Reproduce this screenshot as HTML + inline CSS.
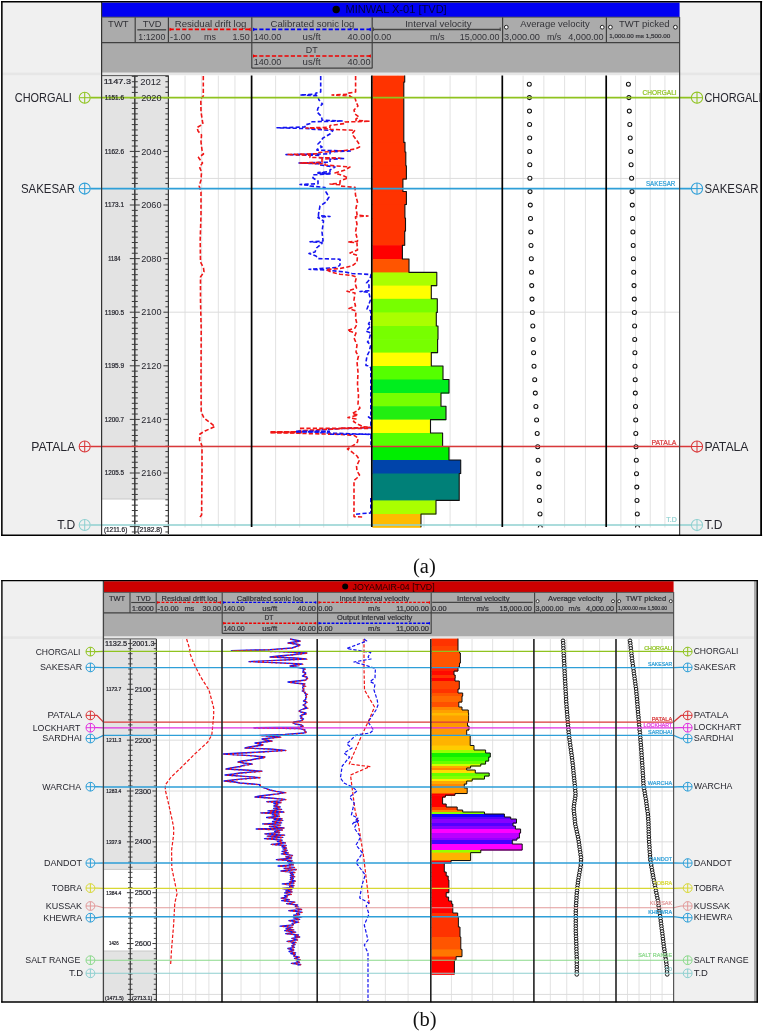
<!DOCTYPE html>
<html lang="en"><head><meta charset="utf-8"><title>Well section calibration</title>
<style>html,body{margin:0;padding:0;background:#fff}svg{display:block}text{white-space:pre}</style></head>
<body>
<svg width="763" height="1032" viewBox="0 0 763 1032" font-family='"Liberation Sans", sans-serif'>
<rect x="0.00" y="0.00" width="763.00" height="1032.00" fill="#ffffff" />
<rect x="1.80" y="1.50" width="99.80" height="533.50" fill="#f0f0f0" />
<rect x="679.60" y="1.50" width="81.60" height="533.50" fill="#f0f0f0" />
<rect x="101.60" y="75.60" width="578.00" height="459.40" fill="#ffffff" />
<rect x="1.80" y="72.60" width="759.40" height="2.60" fill="#e6e6e6" />
<rect x="101.60" y="2.50" width="578.00" height="14.60" fill="#0000f2" />
<rect x="101.60" y="17.20" width="578.00" height="55.40" fill="#ababab" />
<rect x="101.60" y="75.60" width="66.80" height="423.40" fill="#e3e3e3" />
<line x1="101.60" y1="499.00" x2="168.40" y2="499.00" stroke="#c8c8c8" stroke-width="1" />
<line x1="185.04" y1="75.60" x2="185.04" y2="527.50" stroke="#e2e2e2" stroke-width="1" />
<line x1="201.68" y1="75.60" x2="201.68" y2="527.50" stroke="#e2e2e2" stroke-width="1" />
<line x1="218.32" y1="75.60" x2="218.32" y2="527.50" stroke="#e2e2e2" stroke-width="1" />
<line x1="234.96" y1="75.60" x2="234.96" y2="527.50" stroke="#e2e2e2" stroke-width="1" />
<line x1="275.64" y1="75.60" x2="275.64" y2="527.50" stroke="#e2e2e2" stroke-width="1" />
<line x1="299.68" y1="75.60" x2="299.68" y2="527.50" stroke="#e2e2e2" stroke-width="1" />
<line x1="323.72" y1="75.60" x2="323.72" y2="527.50" stroke="#e2e2e2" stroke-width="1" />
<line x1="347.76" y1="75.60" x2="347.76" y2="527.50" stroke="#e2e2e2" stroke-width="1" />
<line x1="397.90" y1="75.60" x2="397.90" y2="527.50" stroke="#e2e2e2" stroke-width="1" />
<line x1="424.00" y1="75.60" x2="424.00" y2="527.50" stroke="#e2e2e2" stroke-width="1" />
<line x1="450.10" y1="75.60" x2="450.10" y2="527.50" stroke="#e2e2e2" stroke-width="1" />
<line x1="476.20" y1="75.60" x2="476.20" y2="527.50" stroke="#e2e2e2" stroke-width="1" />
<line x1="523.08" y1="75.60" x2="523.08" y2="527.50" stroke="#e2e2e2" stroke-width="1" />
<line x1="543.86" y1="75.60" x2="543.86" y2="527.50" stroke="#e2e2e2" stroke-width="1" />
<line x1="564.64" y1="75.60" x2="564.64" y2="527.50" stroke="#e2e2e2" stroke-width="1" />
<line x1="585.42" y1="75.60" x2="585.42" y2="527.50" stroke="#e2e2e2" stroke-width="1" />
<line x1="620.88" y1="75.60" x2="620.88" y2="527.50" stroke="#e2e2e2" stroke-width="1" />
<line x1="635.56" y1="75.60" x2="635.56" y2="527.50" stroke="#e2e2e2" stroke-width="1" />
<line x1="650.24" y1="75.60" x2="650.24" y2="527.50" stroke="#e2e2e2" stroke-width="1" />
<line x1="664.92" y1="75.60" x2="664.92" y2="527.50" stroke="#e2e2e2" stroke-width="1" />
<line x1="168.40" y1="178.40" x2="679.60" y2="178.40" stroke="#dcdcdc" stroke-width="1" />
<line x1="168.40" y1="312.20" x2="679.60" y2="312.20" stroke="#dcdcdc" stroke-width="1" />
<line x1="168.40" y1="446.20" x2="679.60" y2="446.20" stroke="#dcdcdc" stroke-width="1" />
<line x1="134.80" y1="75.60" x2="134.80" y2="534.00" stroke="#3a3a3a" stroke-width="1.5" />
<line x1="168.40" y1="75.60" x2="168.40" y2="534.00" stroke="#3a3a3a" stroke-width="1.2" />
<line x1="101.60" y1="75.60" x2="168.40" y2="75.60" stroke="#555" stroke-width="1" />
<line x1="131.80" y1="76.36" x2="137.80" y2="76.36" stroke="#3a3a3a" stroke-width="1" />
<line x1="165.40" y1="76.36" x2="168.40" y2="76.36" stroke="#3a3a3a" stroke-width="1" />
<line x1="131.80" y1="81.72" x2="137.80" y2="81.72" stroke="#3a3a3a" stroke-width="1" />
<line x1="165.40" y1="81.72" x2="168.40" y2="81.72" stroke="#3a3a3a" stroke-width="1" />
<line x1="131.80" y1="87.08" x2="137.80" y2="87.08" stroke="#3a3a3a" stroke-width="1" />
<line x1="165.40" y1="87.08" x2="168.40" y2="87.08" stroke="#3a3a3a" stroke-width="1" />
<line x1="131.80" y1="92.44" x2="137.80" y2="92.44" stroke="#3a3a3a" stroke-width="1" />
<line x1="165.40" y1="92.44" x2="168.40" y2="92.44" stroke="#3a3a3a" stroke-width="1" />
<line x1="129.80" y1="97.80" x2="139.80" y2="97.80" stroke="#3a3a3a" stroke-width="1" />
<line x1="163.40" y1="97.80" x2="168.40" y2="97.80" stroke="#3a3a3a" stroke-width="1" />
<line x1="131.80" y1="103.16" x2="137.80" y2="103.16" stroke="#3a3a3a" stroke-width="1" />
<line x1="165.40" y1="103.16" x2="168.40" y2="103.16" stroke="#3a3a3a" stroke-width="1" />
<line x1="131.80" y1="108.52" x2="137.80" y2="108.52" stroke="#3a3a3a" stroke-width="1" />
<line x1="165.40" y1="108.52" x2="168.40" y2="108.52" stroke="#3a3a3a" stroke-width="1" />
<line x1="131.80" y1="113.88" x2="137.80" y2="113.88" stroke="#3a3a3a" stroke-width="1" />
<line x1="165.40" y1="113.88" x2="168.40" y2="113.88" stroke="#3a3a3a" stroke-width="1" />
<line x1="131.80" y1="119.24" x2="137.80" y2="119.24" stroke="#3a3a3a" stroke-width="1" />
<line x1="165.40" y1="119.24" x2="168.40" y2="119.24" stroke="#3a3a3a" stroke-width="1" />
<line x1="131.80" y1="124.60" x2="137.80" y2="124.60" stroke="#3a3a3a" stroke-width="1" />
<line x1="165.40" y1="124.60" x2="168.40" y2="124.60" stroke="#3a3a3a" stroke-width="1" />
<line x1="131.80" y1="129.96" x2="137.80" y2="129.96" stroke="#3a3a3a" stroke-width="1" />
<line x1="165.40" y1="129.96" x2="168.40" y2="129.96" stroke="#3a3a3a" stroke-width="1" />
<line x1="131.80" y1="135.32" x2="137.80" y2="135.32" stroke="#3a3a3a" stroke-width="1" />
<line x1="165.40" y1="135.32" x2="168.40" y2="135.32" stroke="#3a3a3a" stroke-width="1" />
<line x1="131.80" y1="140.68" x2="137.80" y2="140.68" stroke="#3a3a3a" stroke-width="1" />
<line x1="165.40" y1="140.68" x2="168.40" y2="140.68" stroke="#3a3a3a" stroke-width="1" />
<line x1="131.80" y1="146.04" x2="137.80" y2="146.04" stroke="#3a3a3a" stroke-width="1" />
<line x1="165.40" y1="146.04" x2="168.40" y2="146.04" stroke="#3a3a3a" stroke-width="1" />
<line x1="129.80" y1="151.40" x2="139.80" y2="151.40" stroke="#3a3a3a" stroke-width="1" />
<line x1="163.40" y1="151.40" x2="168.40" y2="151.40" stroke="#3a3a3a" stroke-width="1" />
<line x1="131.80" y1="156.76" x2="137.80" y2="156.76" stroke="#3a3a3a" stroke-width="1" />
<line x1="165.40" y1="156.76" x2="168.40" y2="156.76" stroke="#3a3a3a" stroke-width="1" />
<line x1="131.80" y1="162.12" x2="137.80" y2="162.12" stroke="#3a3a3a" stroke-width="1" />
<line x1="165.40" y1="162.12" x2="168.40" y2="162.12" stroke="#3a3a3a" stroke-width="1" />
<line x1="131.80" y1="167.48" x2="137.80" y2="167.48" stroke="#3a3a3a" stroke-width="1" />
<line x1="165.40" y1="167.48" x2="168.40" y2="167.48" stroke="#3a3a3a" stroke-width="1" />
<line x1="131.80" y1="172.84" x2="137.80" y2="172.84" stroke="#3a3a3a" stroke-width="1" />
<line x1="165.40" y1="172.84" x2="168.40" y2="172.84" stroke="#3a3a3a" stroke-width="1" />
<line x1="131.80" y1="178.20" x2="137.80" y2="178.20" stroke="#3a3a3a" stroke-width="1" />
<line x1="165.40" y1="178.20" x2="168.40" y2="178.20" stroke="#3a3a3a" stroke-width="1" />
<line x1="131.80" y1="183.56" x2="137.80" y2="183.56" stroke="#3a3a3a" stroke-width="1" />
<line x1="165.40" y1="183.56" x2="168.40" y2="183.56" stroke="#3a3a3a" stroke-width="1" />
<line x1="131.80" y1="188.92" x2="137.80" y2="188.92" stroke="#3a3a3a" stroke-width="1" />
<line x1="165.40" y1="188.92" x2="168.40" y2="188.92" stroke="#3a3a3a" stroke-width="1" />
<line x1="131.80" y1="194.28" x2="137.80" y2="194.28" stroke="#3a3a3a" stroke-width="1" />
<line x1="165.40" y1="194.28" x2="168.40" y2="194.28" stroke="#3a3a3a" stroke-width="1" />
<line x1="131.80" y1="199.64" x2="137.80" y2="199.64" stroke="#3a3a3a" stroke-width="1" />
<line x1="165.40" y1="199.64" x2="168.40" y2="199.64" stroke="#3a3a3a" stroke-width="1" />
<line x1="129.80" y1="205.00" x2="139.80" y2="205.00" stroke="#3a3a3a" stroke-width="1" />
<line x1="163.40" y1="205.00" x2="168.40" y2="205.00" stroke="#3a3a3a" stroke-width="1" />
<line x1="131.80" y1="210.36" x2="137.80" y2="210.36" stroke="#3a3a3a" stroke-width="1" />
<line x1="165.40" y1="210.36" x2="168.40" y2="210.36" stroke="#3a3a3a" stroke-width="1" />
<line x1="131.80" y1="215.72" x2="137.80" y2="215.72" stroke="#3a3a3a" stroke-width="1" />
<line x1="165.40" y1="215.72" x2="168.40" y2="215.72" stroke="#3a3a3a" stroke-width="1" />
<line x1="131.80" y1="221.08" x2="137.80" y2="221.08" stroke="#3a3a3a" stroke-width="1" />
<line x1="165.40" y1="221.08" x2="168.40" y2="221.08" stroke="#3a3a3a" stroke-width="1" />
<line x1="131.80" y1="226.44" x2="137.80" y2="226.44" stroke="#3a3a3a" stroke-width="1" />
<line x1="165.40" y1="226.44" x2="168.40" y2="226.44" stroke="#3a3a3a" stroke-width="1" />
<line x1="131.80" y1="231.80" x2="137.80" y2="231.80" stroke="#3a3a3a" stroke-width="1" />
<line x1="165.40" y1="231.80" x2="168.40" y2="231.80" stroke="#3a3a3a" stroke-width="1" />
<line x1="131.80" y1="237.16" x2="137.80" y2="237.16" stroke="#3a3a3a" stroke-width="1" />
<line x1="165.40" y1="237.16" x2="168.40" y2="237.16" stroke="#3a3a3a" stroke-width="1" />
<line x1="131.80" y1="242.52" x2="137.80" y2="242.52" stroke="#3a3a3a" stroke-width="1" />
<line x1="165.40" y1="242.52" x2="168.40" y2="242.52" stroke="#3a3a3a" stroke-width="1" />
<line x1="131.80" y1="247.88" x2="137.80" y2="247.88" stroke="#3a3a3a" stroke-width="1" />
<line x1="165.40" y1="247.88" x2="168.40" y2="247.88" stroke="#3a3a3a" stroke-width="1" />
<line x1="131.80" y1="253.24" x2="137.80" y2="253.24" stroke="#3a3a3a" stroke-width="1" />
<line x1="165.40" y1="253.24" x2="168.40" y2="253.24" stroke="#3a3a3a" stroke-width="1" />
<line x1="129.80" y1="258.60" x2="139.80" y2="258.60" stroke="#3a3a3a" stroke-width="1" />
<line x1="163.40" y1="258.60" x2="168.40" y2="258.60" stroke="#3a3a3a" stroke-width="1" />
<line x1="131.80" y1="263.96" x2="137.80" y2="263.96" stroke="#3a3a3a" stroke-width="1" />
<line x1="165.40" y1="263.96" x2="168.40" y2="263.96" stroke="#3a3a3a" stroke-width="1" />
<line x1="131.80" y1="269.32" x2="137.80" y2="269.32" stroke="#3a3a3a" stroke-width="1" />
<line x1="165.40" y1="269.32" x2="168.40" y2="269.32" stroke="#3a3a3a" stroke-width="1" />
<line x1="131.80" y1="274.68" x2="137.80" y2="274.68" stroke="#3a3a3a" stroke-width="1" />
<line x1="165.40" y1="274.68" x2="168.40" y2="274.68" stroke="#3a3a3a" stroke-width="1" />
<line x1="131.80" y1="280.04" x2="137.80" y2="280.04" stroke="#3a3a3a" stroke-width="1" />
<line x1="165.40" y1="280.04" x2="168.40" y2="280.04" stroke="#3a3a3a" stroke-width="1" />
<line x1="131.80" y1="285.40" x2="137.80" y2="285.40" stroke="#3a3a3a" stroke-width="1" />
<line x1="165.40" y1="285.40" x2="168.40" y2="285.40" stroke="#3a3a3a" stroke-width="1" />
<line x1="131.80" y1="290.76" x2="137.80" y2="290.76" stroke="#3a3a3a" stroke-width="1" />
<line x1="165.40" y1="290.76" x2="168.40" y2="290.76" stroke="#3a3a3a" stroke-width="1" />
<line x1="131.80" y1="296.12" x2="137.80" y2="296.12" stroke="#3a3a3a" stroke-width="1" />
<line x1="165.40" y1="296.12" x2="168.40" y2="296.12" stroke="#3a3a3a" stroke-width="1" />
<line x1="131.80" y1="301.48" x2="137.80" y2="301.48" stroke="#3a3a3a" stroke-width="1" />
<line x1="165.40" y1="301.48" x2="168.40" y2="301.48" stroke="#3a3a3a" stroke-width="1" />
<line x1="131.80" y1="306.84" x2="137.80" y2="306.84" stroke="#3a3a3a" stroke-width="1" />
<line x1="165.40" y1="306.84" x2="168.40" y2="306.84" stroke="#3a3a3a" stroke-width="1" />
<line x1="129.80" y1="312.20" x2="139.80" y2="312.20" stroke="#3a3a3a" stroke-width="1" />
<line x1="163.40" y1="312.20" x2="168.40" y2="312.20" stroke="#3a3a3a" stroke-width="1" />
<line x1="131.80" y1="317.56" x2="137.80" y2="317.56" stroke="#3a3a3a" stroke-width="1" />
<line x1="165.40" y1="317.56" x2="168.40" y2="317.56" stroke="#3a3a3a" stroke-width="1" />
<line x1="131.80" y1="322.92" x2="137.80" y2="322.92" stroke="#3a3a3a" stroke-width="1" />
<line x1="165.40" y1="322.92" x2="168.40" y2="322.92" stroke="#3a3a3a" stroke-width="1" />
<line x1="131.80" y1="328.28" x2="137.80" y2="328.28" stroke="#3a3a3a" stroke-width="1" />
<line x1="165.40" y1="328.28" x2="168.40" y2="328.28" stroke="#3a3a3a" stroke-width="1" />
<line x1="131.80" y1="333.64" x2="137.80" y2="333.64" stroke="#3a3a3a" stroke-width="1" />
<line x1="165.40" y1="333.64" x2="168.40" y2="333.64" stroke="#3a3a3a" stroke-width="1" />
<line x1="131.80" y1="339.00" x2="137.80" y2="339.00" stroke="#3a3a3a" stroke-width="1" />
<line x1="165.40" y1="339.00" x2="168.40" y2="339.00" stroke="#3a3a3a" stroke-width="1" />
<line x1="131.80" y1="344.36" x2="137.80" y2="344.36" stroke="#3a3a3a" stroke-width="1" />
<line x1="165.40" y1="344.36" x2="168.40" y2="344.36" stroke="#3a3a3a" stroke-width="1" />
<line x1="131.80" y1="349.72" x2="137.80" y2="349.72" stroke="#3a3a3a" stroke-width="1" />
<line x1="165.40" y1="349.72" x2="168.40" y2="349.72" stroke="#3a3a3a" stroke-width="1" />
<line x1="131.80" y1="355.08" x2="137.80" y2="355.08" stroke="#3a3a3a" stroke-width="1" />
<line x1="165.40" y1="355.08" x2="168.40" y2="355.08" stroke="#3a3a3a" stroke-width="1" />
<line x1="131.80" y1="360.44" x2="137.80" y2="360.44" stroke="#3a3a3a" stroke-width="1" />
<line x1="165.40" y1="360.44" x2="168.40" y2="360.44" stroke="#3a3a3a" stroke-width="1" />
<line x1="129.80" y1="365.80" x2="139.80" y2="365.80" stroke="#3a3a3a" stroke-width="1" />
<line x1="163.40" y1="365.80" x2="168.40" y2="365.80" stroke="#3a3a3a" stroke-width="1" />
<line x1="131.80" y1="371.16" x2="137.80" y2="371.16" stroke="#3a3a3a" stroke-width="1" />
<line x1="165.40" y1="371.16" x2="168.40" y2="371.16" stroke="#3a3a3a" stroke-width="1" />
<line x1="131.80" y1="376.52" x2="137.80" y2="376.52" stroke="#3a3a3a" stroke-width="1" />
<line x1="165.40" y1="376.52" x2="168.40" y2="376.52" stroke="#3a3a3a" stroke-width="1" />
<line x1="131.80" y1="381.88" x2="137.80" y2="381.88" stroke="#3a3a3a" stroke-width="1" />
<line x1="165.40" y1="381.88" x2="168.40" y2="381.88" stroke="#3a3a3a" stroke-width="1" />
<line x1="131.80" y1="387.24" x2="137.80" y2="387.24" stroke="#3a3a3a" stroke-width="1" />
<line x1="165.40" y1="387.24" x2="168.40" y2="387.24" stroke="#3a3a3a" stroke-width="1" />
<line x1="131.80" y1="392.60" x2="137.80" y2="392.60" stroke="#3a3a3a" stroke-width="1" />
<line x1="165.40" y1="392.60" x2="168.40" y2="392.60" stroke="#3a3a3a" stroke-width="1" />
<line x1="131.80" y1="397.96" x2="137.80" y2="397.96" stroke="#3a3a3a" stroke-width="1" />
<line x1="165.40" y1="397.96" x2="168.40" y2="397.96" stroke="#3a3a3a" stroke-width="1" />
<line x1="131.80" y1="403.32" x2="137.80" y2="403.32" stroke="#3a3a3a" stroke-width="1" />
<line x1="165.40" y1="403.32" x2="168.40" y2="403.32" stroke="#3a3a3a" stroke-width="1" />
<line x1="131.80" y1="408.68" x2="137.80" y2="408.68" stroke="#3a3a3a" stroke-width="1" />
<line x1="165.40" y1="408.68" x2="168.40" y2="408.68" stroke="#3a3a3a" stroke-width="1" />
<line x1="131.80" y1="414.04" x2="137.80" y2="414.04" stroke="#3a3a3a" stroke-width="1" />
<line x1="165.40" y1="414.04" x2="168.40" y2="414.04" stroke="#3a3a3a" stroke-width="1" />
<line x1="129.80" y1="419.40" x2="139.80" y2="419.40" stroke="#3a3a3a" stroke-width="1" />
<line x1="163.40" y1="419.40" x2="168.40" y2="419.40" stroke="#3a3a3a" stroke-width="1" />
<line x1="131.80" y1="424.76" x2="137.80" y2="424.76" stroke="#3a3a3a" stroke-width="1" />
<line x1="165.40" y1="424.76" x2="168.40" y2="424.76" stroke="#3a3a3a" stroke-width="1" />
<line x1="131.80" y1="430.12" x2="137.80" y2="430.12" stroke="#3a3a3a" stroke-width="1" />
<line x1="165.40" y1="430.12" x2="168.40" y2="430.12" stroke="#3a3a3a" stroke-width="1" />
<line x1="131.80" y1="435.48" x2="137.80" y2="435.48" stroke="#3a3a3a" stroke-width="1" />
<line x1="165.40" y1="435.48" x2="168.40" y2="435.48" stroke="#3a3a3a" stroke-width="1" />
<line x1="131.80" y1="440.84" x2="137.80" y2="440.84" stroke="#3a3a3a" stroke-width="1" />
<line x1="165.40" y1="440.84" x2="168.40" y2="440.84" stroke="#3a3a3a" stroke-width="1" />
<line x1="131.80" y1="446.20" x2="137.80" y2="446.20" stroke="#3a3a3a" stroke-width="1" />
<line x1="165.40" y1="446.20" x2="168.40" y2="446.20" stroke="#3a3a3a" stroke-width="1" />
<line x1="131.80" y1="451.56" x2="137.80" y2="451.56" stroke="#3a3a3a" stroke-width="1" />
<line x1="165.40" y1="451.56" x2="168.40" y2="451.56" stroke="#3a3a3a" stroke-width="1" />
<line x1="131.80" y1="456.92" x2="137.80" y2="456.92" stroke="#3a3a3a" stroke-width="1" />
<line x1="165.40" y1="456.92" x2="168.40" y2="456.92" stroke="#3a3a3a" stroke-width="1" />
<line x1="131.80" y1="462.28" x2="137.80" y2="462.28" stroke="#3a3a3a" stroke-width="1" />
<line x1="165.40" y1="462.28" x2="168.40" y2="462.28" stroke="#3a3a3a" stroke-width="1" />
<line x1="131.80" y1="467.64" x2="137.80" y2="467.64" stroke="#3a3a3a" stroke-width="1" />
<line x1="165.40" y1="467.64" x2="168.40" y2="467.64" stroke="#3a3a3a" stroke-width="1" />
<line x1="129.80" y1="473.00" x2="139.80" y2="473.00" stroke="#3a3a3a" stroke-width="1" />
<line x1="163.40" y1="473.00" x2="168.40" y2="473.00" stroke="#3a3a3a" stroke-width="1" />
<line x1="131.80" y1="478.36" x2="137.80" y2="478.36" stroke="#3a3a3a" stroke-width="1" />
<line x1="165.40" y1="478.36" x2="168.40" y2="478.36" stroke="#3a3a3a" stroke-width="1" />
<line x1="131.80" y1="483.72" x2="137.80" y2="483.72" stroke="#3a3a3a" stroke-width="1" />
<line x1="165.40" y1="483.72" x2="168.40" y2="483.72" stroke="#3a3a3a" stroke-width="1" />
<line x1="131.80" y1="489.08" x2="137.80" y2="489.08" stroke="#3a3a3a" stroke-width="1" />
<line x1="165.40" y1="489.08" x2="168.40" y2="489.08" stroke="#3a3a3a" stroke-width="1" />
<line x1="131.80" y1="494.44" x2="137.80" y2="494.44" stroke="#3a3a3a" stroke-width="1" />
<line x1="165.40" y1="494.44" x2="168.40" y2="494.44" stroke="#3a3a3a" stroke-width="1" />
<line x1="131.80" y1="499.80" x2="137.80" y2="499.80" stroke="#3a3a3a" stroke-width="1" />
<line x1="165.40" y1="499.80" x2="168.40" y2="499.80" stroke="#3a3a3a" stroke-width="1" />
<line x1="131.80" y1="505.16" x2="137.80" y2="505.16" stroke="#3a3a3a" stroke-width="1" />
<line x1="165.40" y1="505.16" x2="168.40" y2="505.16" stroke="#3a3a3a" stroke-width="1" />
<line x1="131.80" y1="510.52" x2="137.80" y2="510.52" stroke="#3a3a3a" stroke-width="1" />
<line x1="165.40" y1="510.52" x2="168.40" y2="510.52" stroke="#3a3a3a" stroke-width="1" />
<line x1="131.80" y1="515.88" x2="137.80" y2="515.88" stroke="#3a3a3a" stroke-width="1" />
<line x1="165.40" y1="515.88" x2="168.40" y2="515.88" stroke="#3a3a3a" stroke-width="1" />
<line x1="131.80" y1="521.24" x2="137.80" y2="521.24" stroke="#3a3a3a" stroke-width="1" />
<line x1="165.40" y1="521.24" x2="168.40" y2="521.24" stroke="#3a3a3a" stroke-width="1" />
<line x1="129.80" y1="526.60" x2="139.80" y2="526.60" stroke="#3a3a3a" stroke-width="1" />
<line x1="163.40" y1="526.60" x2="168.40" y2="526.60" stroke="#3a3a3a" stroke-width="1" />
<line x1="131.80" y1="531.96" x2="137.80" y2="531.96" stroke="#3a3a3a" stroke-width="1" />
<line x1="165.40" y1="531.96" x2="168.40" y2="531.96" stroke="#3a3a3a" stroke-width="1" />
<polyline points="203.3,76.0 203.3,96.0 200.8,99.0 201.0,112.0 202.6,122.0 203.0,124.0 197.0,127.5 198.0,131.0 201.5,135.0 201.0,142.0 202.0,150.0 203.5,154.0 198.5,157.5 202.5,163.0 199.5,167.0 201.5,172.0 201.0,180.0 199.2,186.0 201.0,192.0 201.0,215.0 200.2,240.0 200.5,262.0 203.5,268.0 204.0,272.0 200.5,277.0 200.5,300.0 201.2,330.0 201.0,380.0 201.2,412.0 204.0,418.0 215.0,426.5 205.0,431.0 200.0,434.0 199.5,440.0 202.0,446.0 202.0,470.0 201.6,515.0 199.5,517.5" fill="none" stroke="#f01616" stroke-width="1.6" stroke-dasharray="4.2 2.2" stroke-linejoin="round" />
<polyline points="320.7,76.0 320.7,92.0 316.0,93.0 316.0,94.2 300.0,95.0 318.0,95.8 318.0,97.0 319.0,100.0 322.5,104.0 318.0,108.0 317.0,112.0 321.0,116.0 322.0,119.0 322.0,120.2 343.0,121.0 312.0,121.8 312.0,123.0 305.0,125.0 305.0,127.0 277.0,127.8 310.0,128.6 310.0,129.0 333.0,130.5 330.0,134.0 323.0,138.0 320.0,142.0 318.0,144.0 322.0,147.0 317.0,149.5 317.0,150.2 352.0,151.0 330.0,151.8 330.0,152.5 330.0,153.8 286.0,154.6 320.0,155.4 320.0,156.0 320.0,157.7 344.5,158.5 330.0,159.3 330.0,160.5 330.0,162.2 299.0,163.0 320.0,163.8 320.0,165.0 335.0,167.0 330.0,170.0 330.0,171.7 318.0,172.5 330.0,173.3 318.0,173.2 330.0,174.0 313.0,174.8 313.0,178.0 318.0,181.0 318.0,183.7 300.0,184.5 310.0,185.3 310.0,186.0 325.0,187.5 326.0,192.0 329.0,197.0 326.0,202.0 320.0,206.0 318.5,214.0 318.5,215.7 330.0,216.5 318.0,217.3 318.0,217.5 323.5,221.0 322.0,232.0 323.0,240.0 323.0,241.0 310.0,241.8 322.0,242.6 322.0,243.5 316.5,248.0 315.0,252.0 309.0,253.5 316.0,256.0 318.0,258.6 340.0,259.2 340.0,265.0 337.0,267.5 320.0,268.6 309.0,269.3 330.0,270.1 330.0,270.5 345.0,272.0 352.0,273.5 371.0,274.5 370.0,279.0 366.5,283.0 369.0,285.0 369.0,290.7 360.0,291.5 369.0,292.3 369.0,293.0 370.5,300.0 367.0,309.0 370.8,311.0 370.8,320.0 368.5,324.0 370.8,326.0 366.0,331.0 370.8,333.0 369.0,340.0 367.5,342.0 370.8,345.0 369.0,352.0 367.0,356.0 366.0,362.0 366.0,365.5 369.5,366.0 370.8,368.0 370.8,416.0 368.5,417.0 370.8,418.5 370.8,427.6 340.0,428.6 318.0,430.0 318.0,430.6 298.0,431.4 320.0,432.2 320.0,432.8 345.0,433.6 371.0,434.4 371.0,445.0" fill="none" stroke="#1414f0" stroke-width="1.6" stroke-dasharray="4.2 2.2" stroke-linejoin="round" />
<polyline points="370.8,498.0 370.8,513.0 362.0,513.6 354.0,514.4" fill="none" stroke="#1414f0" stroke-width="1.6" stroke-dasharray="4.2 2.2" stroke-linejoin="round" />
<polyline points="355.6,76.0 355.6,92.0 348.0,93.2 348.0,94.2 332.0,95.0 350.0,95.8 350.0,96.5 355.0,98.0 356.5,103.0 358.0,106.0 354.0,110.0 355.0,114.0 359.0,117.0 356.0,119.0 356.0,120.4 370.0,121.2 345.0,122.0 345.0,123.5 330.0,125.5 330.0,127.2 306.0,128.0 330.0,128.8 330.0,129.3 355.0,130.3 352.0,134.0 355.0,138.0 358.5,143.0 359.5,147.0 355.0,149.0 345.0,150.5 318.0,152.5 318.0,153.7 287.0,154.5 310.0,155.3 310.0,156.0 310.0,157.4 340.0,158.2 322.0,159.0 322.0,160.4 322.0,162.2 300.0,163.0 325.0,163.8 325.0,165.0 350.0,167.0 345.0,170.0 335.0,173.0 343.0,175.5 348.0,178.0 340.0,181.0 340.0,183.2 330.0,184.0 340.0,184.8 340.0,186.0 355.0,187.4 355.5,195.0 357.5,202.0 356.0,208.0 357.0,214.0 357.0,215.2 368.0,216.0 355.5,216.8 355.5,217.6 357.0,224.0 355.5,232.0 357.5,240.0 357.5,241.2 348.0,242.0 357.0,242.8 357.0,244.0 357.5,250.0 350.0,253.0 357.5,255.5 357.0,262.0 352.0,266.0 340.0,268.5 326.0,269.6 331.0,272.0 340.0,274.2 352.0,275.5 356.5,277.0 355.0,283.0 356.5,288.0 347.0,291.3 355.0,293.0 354.0,300.0 355.5,306.0 349.0,308.5 356.0,311.0 355.5,318.0 357.0,324.0 355.0,328.0 347.5,330.5 356.0,333.0 354.0,338.0 357.0,345.0 356.0,352.0 358.5,356.0 357.0,362.0 358.0,372.0 357.5,384.0 358.5,396.0 358.0,404.0 360.0,408.0 357.0,411.0 352.0,413.5 358.0,415.0 348.0,417.5 356.0,419.0 353.5,421.5 357.5,424.0 362.0,426.2 362.0,426.6 370.5,427.4 340.0,428.2 340.0,428.8 300.0,430.6 300.0,431.6 270.5,432.4 300.0,433.2 300.0,433.4 340.0,434.4 354.0,435.3 358.0,438.0 357.5,442.0 354.0,445.0 347.5,449.0 352.0,452.0 357.0,456.0 359.5,460.0 356.5,466.0 357.0,471.0 359.5,475.0 357.0,478.0 354.0,480.5 354.0,516.6 362.5,517.0" fill="none" stroke="#f01616" stroke-width="1.6" stroke-dasharray="4.2 2.2" stroke-linejoin="round" />
<line x1="270.50" y1="432.30" x2="302.00" y2="432.30" stroke="#f01616" stroke-width="2.6" stroke-dasharray="5 1.6"/>
<line x1="296.00" y1="431.60" x2="330.00" y2="431.60" stroke="#1414f0" stroke-width="2.4" stroke-dasharray="5 1.2"/>
<line x1="300.00" y1="428.40" x2="371.00" y2="428.40" stroke="#f01616" stroke-width="1.6" stroke-dasharray="4.2 2.2"/>
<line x1="330.00" y1="434.20" x2="371.00" y2="434.20" stroke="#1414f0" stroke-width="1.6" stroke-dasharray="4.2 2.2"/>
<rect x="372.40" y="75.60" width="32.30" height="7.00" fill="#ff3300" />
<rect x="372.40" y="82.00" width="31.40" height="61.00" fill="#ff3300" />
<rect x="372.40" y="142.40" width="32.60" height="10.20" fill="#ff3300" />
<rect x="372.40" y="152.00" width="33.40" height="14.40" fill="#ff3300" />
<rect x="372.40" y="165.80" width="34.00" height="13.80" fill="#ff3300" />
<rect x="372.40" y="179.00" width="30.50" height="13.10" fill="#ff3300" />
<rect x="372.40" y="191.50" width="34.00" height="13.60" fill="#ff3300" />
<rect x="372.40" y="204.50" width="32.50" height="14.10" fill="#ff3300" />
<rect x="372.40" y="218.00" width="33.10" height="13.60" fill="#ff3300" />
<rect x="372.40" y="231.00" width="32.30" height="14.90" fill="#ff3300" />
<rect x="372.40" y="245.30" width="30.00" height="14.30" fill="#ff0000" />
<rect x="372.40" y="259.00" width="36.60" height="14.00" fill="#ff5500" />
<rect x="372.40" y="272.40" width="64.40" height="13.80" fill="#aaff00" />
<rect x="372.40" y="285.60" width="58.90" height="13.80" fill="#ffff00" />
<rect x="372.40" y="298.80" width="64.90" height="14.20" fill="#77ff00" />
<rect x="372.40" y="312.40" width="63.90" height="14.20" fill="#aaff00" />
<rect x="372.40" y="326.00" width="65.60" height="13.90" fill="#77ff00" />
<rect x="372.40" y="339.30" width="65.20" height="13.90" fill="#77ff00" />
<rect x="372.40" y="352.60" width="58.90" height="14.00" fill="#ffff00" />
<rect x="372.40" y="366.00" width="70.60" height="14.10" fill="#55ff00" />
<rect x="372.40" y="379.50" width="76.60" height="14.10" fill="#00ee1e" />
<rect x="372.40" y="393.00" width="68.60" height="13.80" fill="#77ff00" />
<rect x="372.40" y="406.20" width="73.60" height="14.00" fill="#22ee11" />
<rect x="372.40" y="419.60" width="58.10" height="14.00" fill="#ffff00" />
<rect x="372.40" y="433.00" width="70.20" height="14.10" fill="#55ff00" />
<rect x="372.40" y="446.50" width="76.60" height="14.10" fill="#00ee00" />
<rect x="372.40" y="460.00" width="88.30" height="14.10" fill="#0044aa" />
<rect x="372.40" y="473.50" width="86.80" height="27.50" fill="#008078" />
<rect x="372.40" y="500.40" width="63.60" height="14.20" fill="#aaff00" />
<rect x="372.40" y="514.00" width="48.60" height="13.80" fill="#ffbb00" />
<polyline points="404.7,75.6 404.7,75.6 404.7,82.0 403.8,82.0 403.8,142.4 405.0,142.4 405.0,152.0 405.8,152.0 405.8,165.8 406.4,165.8 406.4,179.0 402.9,179.0 402.9,191.5 406.4,191.5 406.4,204.5 404.9,204.5 404.9,218.0 405.5,218.0 405.5,231.0 404.7,231.0 404.7,245.3 402.4,245.3 402.4,259.0 409.0,259.0 409.0,272.4 436.8,272.4 436.8,285.6 431.3,285.6 431.3,298.8 437.3,298.8 437.3,312.4 436.3,312.4 436.3,326.0 438.0,326.0 438.0,339.3 437.6,339.3 437.6,352.6 431.3,352.6 431.3,366.0 443.0,366.0 443.0,379.5 449.0,379.5 449.0,393.0 441.0,393.0 441.0,406.2 446.0,406.2 446.0,419.6 430.5,419.6 430.5,433.0 442.6,433.0 442.6,446.5 449.0,446.5 449.0,460.0 460.7,460.0 460.7,473.5 459.2,473.5 459.2,500.4 436.0,500.4 436.0,514.0 421.0,514.0 421.0,527.2" fill="none" stroke="#111" stroke-width="1.1" stroke-linejoin="round" />
<clipPath id="clipD"><rect x="500" y="70" width="180" height="457.6"/></clipPath>
<g clip-path="url(#clipD)" fill="#fff" stroke="#111" stroke-width="1.05">
<g>
<ellipse cx="529.3" cy="84.2" rx="2.0" ry="2.0"/>
<ellipse cx="628.4" cy="84.2" rx="2.0" ry="2.0"/>
<ellipse cx="529.4" cy="97.6" rx="2.0" ry="2.0"/>
<ellipse cx="628.9" cy="97.6" rx="2.0" ry="2.0"/>
<ellipse cx="529.5" cy="111.1" rx="2.0" ry="2.0"/>
<ellipse cx="629.3" cy="111.1" rx="2.0" ry="2.0"/>
<ellipse cx="529.6" cy="124.5" rx="2.0" ry="2.0"/>
<ellipse cx="629.8" cy="124.5" rx="2.0" ry="2.0"/>
<ellipse cx="529.7" cy="137.9" rx="2.0" ry="2.0"/>
<ellipse cx="630.2" cy="137.9" rx="2.0" ry="2.0"/>
<ellipse cx="529.7" cy="151.4" rx="2.0" ry="2.0"/>
<ellipse cx="630.7" cy="151.4" rx="2.0" ry="2.0"/>
<ellipse cx="529.8" cy="164.8" rx="2.0" ry="2.0"/>
<ellipse cx="631.1" cy="164.8" rx="2.0" ry="2.0"/>
<ellipse cx="529.9" cy="178.2" rx="2.0" ry="2.0"/>
<ellipse cx="631.6" cy="178.2" rx="2.0" ry="2.0"/>
<ellipse cx="530.0" cy="191.6" rx="2.0" ry="2.0"/>
<ellipse cx="632.0" cy="191.6" rx="2.0" ry="2.0"/>
<ellipse cx="530.3" cy="205.1" rx="2.0" ry="2.0"/>
<ellipse cx="632.3" cy="205.1" rx="2.0" ry="2.0"/>
<ellipse cx="530.5" cy="218.5" rx="2.0" ry="2.0"/>
<ellipse cx="632.6" cy="218.5" rx="2.0" ry="2.0"/>
<ellipse cx="530.8" cy="231.9" rx="2.0" ry="2.0"/>
<ellipse cx="632.9" cy="231.9" rx="2.0" ry="2.0"/>
<ellipse cx="531.0" cy="245.4" rx="2.0" ry="2.0"/>
<ellipse cx="633.2" cy="245.4" rx="2.0" ry="2.0"/>
<ellipse cx="531.3" cy="258.8" rx="2.0" ry="2.0"/>
<ellipse cx="633.4" cy="258.8" rx="2.0" ry="2.0"/>
<ellipse cx="531.5" cy="272.2" rx="2.0" ry="2.0"/>
<ellipse cx="633.7" cy="272.2" rx="2.0" ry="2.0"/>
<ellipse cx="531.7" cy="285.6" rx="2.0" ry="2.0"/>
<ellipse cx="634.0" cy="285.6" rx="2.0" ry="2.0"/>
<ellipse cx="532.0" cy="299.1" rx="2.0" ry="2.0"/>
<ellipse cx="634.3" cy="299.1" rx="2.0" ry="2.0"/>
<ellipse cx="532.4" cy="312.5" rx="2.0" ry="2.0"/>
<ellipse cx="634.4" cy="312.5" rx="2.0" ry="2.0"/>
<ellipse cx="532.8" cy="325.9" rx="2.0" ry="2.0"/>
<ellipse cx="634.6" cy="325.9" rx="2.0" ry="2.0"/>
<ellipse cx="533.2" cy="339.4" rx="2.0" ry="2.0"/>
<ellipse cx="634.7" cy="339.4" rx="2.0" ry="2.0"/>
<ellipse cx="533.6" cy="352.8" rx="2.0" ry="2.0"/>
<ellipse cx="634.9" cy="352.8" rx="2.0" ry="2.0"/>
<ellipse cx="534.0" cy="366.2" rx="2.0" ry="2.0"/>
<ellipse cx="635.0" cy="366.2" rx="2.0" ry="2.0"/>
<ellipse cx="534.7" cy="379.7" rx="2.0" ry="2.0"/>
<ellipse cx="635.2" cy="379.7" rx="2.0" ry="2.0"/>
<ellipse cx="535.3" cy="393.1" rx="2.0" ry="2.0"/>
<ellipse cx="635.3" cy="393.1" rx="2.0" ry="2.0"/>
<ellipse cx="535.9" cy="406.5" rx="2.0" ry="2.0"/>
<ellipse cx="635.5" cy="406.5" rx="2.0" ry="2.0"/>
<ellipse cx="536.6" cy="419.9" rx="2.0" ry="2.0"/>
<ellipse cx="635.7" cy="419.9" rx="2.0" ry="2.0"/>
<ellipse cx="537.2" cy="433.4" rx="2.0" ry="2.0"/>
<ellipse cx="635.8" cy="433.4" rx="2.0" ry="2.0"/>
<ellipse cx="537.7" cy="446.8" rx="2.0" ry="2.0"/>
<ellipse cx="636.0" cy="446.8" rx="2.0" ry="2.0"/>
<ellipse cx="538.1" cy="460.2" rx="2.0" ry="2.0"/>
<ellipse cx="636.3" cy="460.2" rx="2.0" ry="2.0"/>
<ellipse cx="538.6" cy="473.7" rx="2.0" ry="2.0"/>
<ellipse cx="636.5" cy="473.7" rx="2.0" ry="2.0"/>
<ellipse cx="539.1" cy="487.1" rx="2.0" ry="2.0"/>
<ellipse cx="636.8" cy="487.1" rx="2.0" ry="2.0"/>
<ellipse cx="539.5" cy="500.5" rx="2.0" ry="2.0"/>
<ellipse cx="637.0" cy="500.5" rx="2.0" ry="2.0"/>
<ellipse cx="540.0" cy="514.0" rx="2.0" ry="2.0"/>
<ellipse cx="637.3" cy="514.0" rx="2.0" ry="2.0"/>
<ellipse cx="540.3" cy="527.4" rx="2.0" ry="2.0"/>
<ellipse cx="637.5" cy="527.4" rx="2.0" ry="2.0"/>
</g>
</g>
<line x1="90.40" y1="97.70" x2="691.20" y2="97.70" stroke="#8fc31f" stroke-width="1.8" />
<g stroke="#8fc31f" stroke-width="1.05" fill="none"><circle cx="84.70" cy="97.70" r="5.5"/><line x1="79.20" y1="97.70" x2="90.20" y2="97.70"/><line x1="84.70" y1="92.20" x2="84.70" y2="103.20"/></g>
<g stroke="#8fc31f" stroke-width="1.05" fill="none"><circle cx="697.00" cy="97.70" r="5.6"/><line x1="691.40" y1="97.70" x2="702.60" y2="97.70"/><line x1="697.00" y1="92.10" x2="697.00" y2="103.30"/></g>
<text x="14.80" y="102.10" font-size="12" fill="#26262e" text-anchor="start" textLength="57.10" lengthAdjust="spacingAndGlyphs" >CHORGALI</text>
<line x1="90.40" y1="188.60" x2="691.20" y2="188.60" stroke="#2e9fd8" stroke-width="1.6" />
<g stroke="#2e9fd8" stroke-width="1.05" fill="none"><circle cx="84.70" cy="188.60" r="5.5"/><line x1="79.20" y1="188.60" x2="90.20" y2="188.60"/><line x1="84.70" y1="183.10" x2="84.70" y2="194.10"/></g>
<g stroke="#2e9fd8" stroke-width="1.05" fill="none"><circle cx="697.00" cy="188.60" r="5.6"/><line x1="691.40" y1="188.60" x2="702.60" y2="188.60"/><line x1="697.00" y1="183.00" x2="697.00" y2="194.20"/></g>
<text x="21.00" y="193.00" font-size="12" fill="#26262e" text-anchor="start" textLength="54.00" lengthAdjust="spacingAndGlyphs" >SAKESAR</text>
<line x1="90.40" y1="446.50" x2="691.20" y2="446.50" stroke="#d9383a" stroke-width="1.6" />
<g stroke="#d9383a" stroke-width="1.05" fill="none"><circle cx="84.70" cy="446.50" r="5.5"/><line x1="79.20" y1="446.50" x2="90.20" y2="446.50"/><line x1="84.70" y1="441.00" x2="84.70" y2="452.00"/></g>
<g stroke="#d9383a" stroke-width="1.05" fill="none"><circle cx="697.00" cy="446.50" r="5.6"/><line x1="691.40" y1="446.50" x2="702.60" y2="446.50"/><line x1="697.00" y1="440.90" x2="697.00" y2="452.10"/></g>
<text x="31.20" y="450.90" font-size="12" fill="#26262e" text-anchor="start" textLength="44.10" lengthAdjust="spacingAndGlyphs" >PATALA</text>
<line x1="90.40" y1="525.00" x2="691.20" y2="525.00" stroke="#8fd0d0" stroke-width="1.3" />
<g stroke="#8fd0d0" stroke-width="1.05" fill="none"><circle cx="84.70" cy="525.00" r="5.5"/><line x1="79.20" y1="525.00" x2="90.20" y2="525.00"/><line x1="84.70" y1="519.50" x2="84.70" y2="530.50"/></g>
<g stroke="#8fd0d0" stroke-width="1.05" fill="none"><circle cx="697.00" cy="525.00" r="5.6"/><line x1="691.40" y1="525.00" x2="702.60" y2="525.00"/><line x1="697.00" y1="519.40" x2="697.00" y2="530.60"/></g>
<text x="57.20" y="529.40" font-size="12" fill="#26262e" text-anchor="start" textLength="18.10" lengthAdjust="spacingAndGlyphs" >T.D</text>
<text x="103.70" y="84.30" font-size="7.4" fill="#26262e" text-anchor="start" textLength="27.30" lengthAdjust="spacingAndGlyphs"  stroke="#26262e" stroke-width="0.22">1147.3</text>
<text x="140.20" y="84.70" font-size="8.3" fill="#26262e" text-anchor="start" textLength="20.90" lengthAdjust="spacingAndGlyphs" >2012</text>
<text x="104.80" y="100.20" font-size="6.5" fill="#26262e" text-anchor="start" textLength="19.20" lengthAdjust="spacingAndGlyphs"  stroke="#26262e" stroke-width="0.22">1151.6</text>
<text x="141.20" y="100.90" font-size="8.6" fill="#26262e" text-anchor="start" textLength="20.30" lengthAdjust="spacingAndGlyphs" >2020</text>
<text x="104.80" y="153.80" font-size="6.5" fill="#26262e" text-anchor="start" textLength="19.20" lengthAdjust="spacingAndGlyphs"  stroke="#26262e" stroke-width="0.22">1162.6</text>
<text x="141.20" y="154.50" font-size="8.6" fill="#26262e" text-anchor="start" textLength="20.30" lengthAdjust="spacingAndGlyphs" >2040</text>
<text x="104.80" y="207.40" font-size="6.5" fill="#26262e" text-anchor="start" textLength="19.20" lengthAdjust="spacingAndGlyphs"  stroke="#26262e" stroke-width="0.22">1173.1</text>
<text x="141.20" y="208.10" font-size="8.6" fill="#26262e" text-anchor="start" textLength="20.30" lengthAdjust="spacingAndGlyphs" >2060</text>
<text x="108.35" y="261.00" font-size="6.5" fill="#26262e" text-anchor="start" textLength="12.10" lengthAdjust="spacingAndGlyphs"  stroke="#26262e" stroke-width="0.22">1184</text>
<text x="141.20" y="261.70" font-size="8.6" fill="#26262e" text-anchor="start" textLength="20.30" lengthAdjust="spacingAndGlyphs" >2080</text>
<text x="104.80" y="314.60" font-size="6.5" fill="#26262e" text-anchor="start" textLength="19.20" lengthAdjust="spacingAndGlyphs"  stroke="#26262e" stroke-width="0.22">1190.5</text>
<text x="141.20" y="315.30" font-size="8.6" fill="#26262e" text-anchor="start" textLength="20.30" lengthAdjust="spacingAndGlyphs" >2100</text>
<text x="104.80" y="368.20" font-size="6.5" fill="#26262e" text-anchor="start" textLength="19.20" lengthAdjust="spacingAndGlyphs"  stroke="#26262e" stroke-width="0.22">1195.9</text>
<text x="141.20" y="368.90" font-size="8.6" fill="#26262e" text-anchor="start" textLength="20.30" lengthAdjust="spacingAndGlyphs" >2120</text>
<text x="104.80" y="421.80" font-size="6.5" fill="#26262e" text-anchor="start" textLength="19.20" lengthAdjust="spacingAndGlyphs"  stroke="#26262e" stroke-width="0.22">1200.7</text>
<text x="141.20" y="422.50" font-size="8.6" fill="#26262e" text-anchor="start" textLength="20.30" lengthAdjust="spacingAndGlyphs" >2140</text>
<text x="104.80" y="475.40" font-size="6.5" fill="#26262e" text-anchor="start" textLength="19.20" lengthAdjust="spacingAndGlyphs"  stroke="#26262e" stroke-width="0.22">1205.5</text>
<text x="141.20" y="476.10" font-size="8.6" fill="#26262e" text-anchor="start" textLength="20.30" lengthAdjust="spacingAndGlyphs" >2160</text>
<text x="103.90" y="532.00" font-size="6.6" fill="#26262e" text-anchor="start" textLength="23.40" lengthAdjust="spacingAndGlyphs"  stroke="#26262e" stroke-width="0.22">(1211.6)</text>
<text x="137.20" y="531.50" font-size="6.6" fill="#26262e" text-anchor="start" textLength="25.10" lengthAdjust="spacingAndGlyphs"  stroke="#26262e" stroke-width="0.22">(2182.8)</text>
<text x="676.60" y="95.20" font-size="7.2" fill="#8fc31f" text-anchor="end" textLength="34.00" lengthAdjust="spacingAndGlyphs"  stroke="#8fc31f" stroke-width="0.22">CHORGALI</text>
<text x="675.40" y="186.20" font-size="7.2" fill="#2e9fd8" text-anchor="end" textLength="29.50" lengthAdjust="spacingAndGlyphs"  stroke="#2e9fd8" stroke-width="0.22">SAKESAR</text>
<text x="676.40" y="444.70" font-size="7.2" fill="#d9383a" text-anchor="end" textLength="25.00" lengthAdjust="spacingAndGlyphs"  stroke="#d9383a" stroke-width="0.22">PATALA</text>
<text x="676.80" y="522.00" font-size="7.2" fill="#8fd0d0" text-anchor="end" textLength="10.50" lengthAdjust="spacingAndGlyphs"  stroke="#8fd0d0" stroke-width="0.22">T.D</text>
<line x1="251.60" y1="75.60" x2="251.60" y2="527.00" stroke="#000" stroke-width="1.7" />
<line x1="371.80" y1="75.60" x2="371.80" y2="527.00" stroke="#000" stroke-width="1.7" />
<line x1="502.30" y1="75.60" x2="502.30" y2="527.00" stroke="#000" stroke-width="1.7" />
<line x1="606.20" y1="75.60" x2="606.20" y2="527.00" stroke="#000" stroke-width="1.7" />
<line x1="679.60" y1="17.00" x2="679.60" y2="535.00" stroke="#444" stroke-width="1.2" />
<line x1="101.60" y1="1.50" x2="101.60" y2="535.00" stroke="#333" stroke-width="1.2" />
<clipPath id="clipA"><rect x="680" y="0" width="80.3" height="540"/></clipPath>
<g clip-path="url(#clipA)">
<text x="704.40" y="102.10" font-size="12" fill="#26262e" text-anchor="start" textLength="57.10" lengthAdjust="spacingAndGlyphs" >CHORGALI</text>
<text x="704.40" y="193.00" font-size="12" fill="#26262e" text-anchor="start" textLength="54.00" lengthAdjust="spacingAndGlyphs" >SAKESAR</text>
<text x="704.40" y="450.90" font-size="12" fill="#26262e" text-anchor="start" textLength="44.10" lengthAdjust="spacingAndGlyphs" >PATALA</text>
<text x="704.40" y="529.40" font-size="12" fill="#26262e" text-anchor="start" textLength="18.10" lengthAdjust="spacingAndGlyphs" >T.D</text>
</g>
<circle cx="336.2" cy="9.5" r="3.7" fill="#000"/>
<text x="345.50" y="13.20" font-size="11" fill="#00003a" text-anchor="start" textLength="101.20" lengthAdjust="spacingAndGlyphs" >MINWAL X-01 [TVD]</text>
<line x1="101.60" y1="17.20" x2="679.60" y2="17.20" stroke="#555" stroke-width="1" />
<line x1="101.60" y1="42.60" x2="679.60" y2="42.60" stroke="#404040" stroke-width="1.2" />
<line x1="135.20" y1="17.20" x2="135.20" y2="42.60" stroke="#404040" stroke-width="1.2" />
<line x1="168.40" y1="17.20" x2="168.40" y2="42.60" stroke="#404040" stroke-width="1.2" />
<line x1="251.80" y1="17.20" x2="251.80" y2="42.60" stroke="#404040" stroke-width="1.2" />
<line x1="372.20" y1="17.20" x2="372.20" y2="42.60" stroke="#404040" stroke-width="1.2" />
<line x1="502.60" y1="17.20" x2="502.60" y2="42.60" stroke="#404040" stroke-width="1.2" />
<line x1="606.40" y1="17.20" x2="606.40" y2="42.60" stroke="#404040" stroke-width="1.2" />
<line x1="251.80" y1="42.60" x2="251.80" y2="68.20" stroke="#404040" stroke-width="1.2" />
<line x1="372.20" y1="42.60" x2="372.20" y2="68.20" stroke="#404040" stroke-width="1.2" />
<line x1="251.80" y1="68.20" x2="372.20" y2="68.20" stroke="#404040" stroke-width="1.2" />
<text x="108.10" y="27.10" font-size="9.8" fill="#333338" text-anchor="start" textLength="20.50" lengthAdjust="spacingAndGlyphs" >TWT</text>
<text x="142.70" y="27.10" font-size="9.8" fill="#333338" text-anchor="start" textLength="18.80" lengthAdjust="spacingAndGlyphs" >TVD</text>
<line x1="137.30" y1="29.80" x2="166.20" y2="29.80" stroke="#404040" stroke-width="1.3" />
<text x="138.30" y="40.10" font-size="9.8" fill="#333338" text-anchor="start" textLength="27.00" lengthAdjust="spacingAndGlyphs" >1:1200</text>
<text x="174.70" y="27.10" font-size="9.8" fill="#333338" text-anchor="start" textLength="71.80" lengthAdjust="spacingAndGlyphs" >Residual drift log</text>
<line x1="169.60" y1="29.40" x2="250.60" y2="29.40" stroke="#f00000" stroke-width="1.6" stroke-dasharray="4.2 2.1"/>
<path d="M169.6,27.6 L172.2,29.4 L169.6,31.2 Z" fill="#f00000"/>
<path d="M250.6,27.6 L248.0,29.4 L250.6,31.2 Z" fill="#f00000"/>
<text x="170.10" y="40.10" font-size="9.8" fill="#333338" text-anchor="start" textLength="20.80" lengthAdjust="spacingAndGlyphs" >-1.00</text>
<text x="204.10" y="40.10" font-size="9.8" fill="#333338" text-anchor="start" textLength="11.90" lengthAdjust="spacingAndGlyphs" >ms</text>
<text x="232.40" y="40.10" font-size="9.8" fill="#333338" text-anchor="start" textLength="17.40" lengthAdjust="spacingAndGlyphs" >1.50</text>
<text x="270.50" y="27.10" font-size="9.8" fill="#333338" text-anchor="start" textLength="83.80" lengthAdjust="spacingAndGlyphs" >Calibrated sonic log</text>
<line x1="253.00" y1="29.40" x2="370.80" y2="29.40" stroke="#0000f0" stroke-width="1.6" stroke-dasharray="4.2 2.1"/>
<path d="M253.0,27.6 L255.6,29.4 L253.0,31.2 Z" fill="#0000f0"/>
<path d="M370.8,27.6 L368.2,29.4 L370.8,31.2 Z" fill="#0000f0"/>
<text x="253.70" y="40.10" font-size="9.8" fill="#333338" text-anchor="start" textLength="27.60" lengthAdjust="spacingAndGlyphs" >140.00</text>
<text x="302.60" y="40.10" font-size="9.8" fill="#333338" text-anchor="start" textLength="18.20" lengthAdjust="spacingAndGlyphs" >us/ft</text>
<text x="347.60" y="40.10" font-size="9.8" fill="#333338" text-anchor="start" textLength="22.90" lengthAdjust="spacingAndGlyphs" >40.00</text>
<text x="253.70" y="65.30" font-size="9.8" fill="#333338" text-anchor="start" textLength="27.60" lengthAdjust="spacingAndGlyphs" >140.00</text>
<text x="302.60" y="65.30" font-size="9.8" fill="#333338" text-anchor="start" textLength="18.20" lengthAdjust="spacingAndGlyphs" >us/ft</text>
<text x="347.60" y="65.30" font-size="9.8" fill="#333338" text-anchor="start" textLength="22.90" lengthAdjust="spacingAndGlyphs" >40.00</text>
<text x="305.70" y="52.60" font-size="9.8" fill="#333338" text-anchor="start" textLength="11.90" lengthAdjust="spacingAndGlyphs" >DT</text>
<line x1="253.00" y1="56.00" x2="370.80" y2="56.00" stroke="#f00000" stroke-width="1.6" stroke-dasharray="4.2 2.1"/>
<path d="M253.0,54.2 L255.6,56.0 L253.0,57.8 Z" fill="#f00000"/>
<path d="M370.8,54.2 L368.2,56.0 L370.8,57.8 Z" fill="#f00000"/>
<text x="405.20" y="27.10" font-size="9.8" fill="#333338" text-anchor="start" textLength="66.40" lengthAdjust="spacingAndGlyphs" >Interval velocity</text>
<line x1="373.20" y1="29.40" x2="500.40" y2="29.40" stroke="#444" stroke-width="1.5" />
<line x1="373.40" y1="27.50" x2="373.40" y2="31.00" stroke="#444" stroke-width="1" />
<line x1="500.20" y1="27.50" x2="500.20" y2="31.00" stroke="#444" stroke-width="1" />
<text x="373.90" y="40.10" font-size="9.8" fill="#333338" text-anchor="start" textLength="17.40" lengthAdjust="spacingAndGlyphs" >0.00</text>
<text x="429.90" y="40.10" font-size="9.8" fill="#333338" text-anchor="start" textLength="14.70" lengthAdjust="spacingAndGlyphs" >m/s</text>
<text x="459.70" y="40.10" font-size="9.8" fill="#333338" text-anchor="start" textLength="39.80" lengthAdjust="spacingAndGlyphs" >15,000.00</text>
<text x="520.30" y="27.10" font-size="9.8" fill="#333338" text-anchor="start" textLength="69.40" lengthAdjust="spacingAndGlyphs" >Average velocity</text>
<circle cx="506.3" cy="27.2" r="1.9" fill="#fff" stroke="#222" stroke-width="1"/>
<circle cx="602.2" cy="27.2" r="1.9" fill="#fff" stroke="#222" stroke-width="1"/>
<circle cx="610.4" cy="27.2" r="1.9" fill="#fff" stroke="#222" stroke-width="1"/>
<circle cx="675.4" cy="27.2" r="1.9" fill="#fff" stroke="#222" stroke-width="1"/>
<text x="504.10" y="40.10" font-size="9.8" fill="#333338" text-anchor="start" textLength="35.80" lengthAdjust="spacingAndGlyphs" >3,000.00</text>
<text x="546.90" y="40.10" font-size="9.8" fill="#333338" text-anchor="start" textLength="14.40" lengthAdjust="spacingAndGlyphs" >m/s</text>
<text x="568.30" y="40.10" font-size="9.8" fill="#333338" text-anchor="start" textLength="35.30" lengthAdjust="spacingAndGlyphs" >4,000.00</text>
<text x="618.90" y="27.10" font-size="9.8" fill="#333338" text-anchor="start" textLength="50.70" lengthAdjust="spacingAndGlyphs" >TWT picked</text>
<text x="609.30" y="38.30" font-size="6" fill="#333338" text-anchor="start" textLength="61.00" lengthAdjust="spacingAndGlyphs"  stroke="#333338" stroke-width="0.22">1,000.00 ms 1,500.00</text>
<line x1="1.05" y1="1.75" x2="762.10" y2="1.75" stroke="#000" stroke-width="1.6" />
<line x1="1.85" y1="0.95" x2="1.85" y2="536.10" stroke="#000" stroke-width="1.55" />
<line x1="1.05" y1="535.30" x2="762.10" y2="535.30" stroke="#000" stroke-width="1.6" />
<line x1="761.10" y1="0.95" x2="761.10" y2="536.10" stroke="#000" stroke-width="1.8" />
<rect x="1.80" y="580.00" width="101.60" height="422.30" fill="#f0f0f0" />
<rect x="673.60" y="580.00" width="82.80" height="422.30" fill="#f0f0f0" />
<rect x="103.40" y="638.90" width="570.20" height="363.40" fill="#ffffff" />
<rect x="1.80" y="636.30" width="754.60" height="2.60" fill="#e6e6e6" />
<rect x="103.40" y="581.20" width="570.20" height="11.20" fill="#cc0000" />
<rect x="103.40" y="592.30" width="570.20" height="44.00" fill="#ababab" />
<rect x="103.40" y="638.90" width="53.00" height="230.50" fill="#e3e3e3" />
<rect x="103.40" y="951.00" width="53.00" height="51.30" fill="#e3e3e3" />
<line x1="103.40" y1="869.40" x2="156.40" y2="869.40" stroke="#c8c8c8" stroke-width="1" />
<line x1="103.40" y1="951.00" x2="156.40" y2="951.00" stroke="#c8c8c8" stroke-width="1" />
<line x1="169.52" y1="638.90" x2="169.52" y2="1001.30" stroke="#e2e2e2" stroke-width="1" />
<line x1="182.64" y1="638.90" x2="182.64" y2="1001.30" stroke="#e2e2e2" stroke-width="1" />
<line x1="195.76" y1="638.90" x2="195.76" y2="1001.30" stroke="#e2e2e2" stroke-width="1" />
<line x1="208.88" y1="638.90" x2="208.88" y2="1001.30" stroke="#e2e2e2" stroke-width="1" />
<line x1="241.04" y1="638.90" x2="241.04" y2="1001.30" stroke="#e2e2e2" stroke-width="1" />
<line x1="260.08" y1="638.90" x2="260.08" y2="1001.30" stroke="#e2e2e2" stroke-width="1" />
<line x1="279.12" y1="638.90" x2="279.12" y2="1001.30" stroke="#e2e2e2" stroke-width="1" />
<line x1="298.16" y1="638.90" x2="298.16" y2="1001.30" stroke="#e2e2e2" stroke-width="1" />
<line x1="339.92" y1="638.90" x2="339.92" y2="1001.30" stroke="#e2e2e2" stroke-width="1" />
<line x1="362.64" y1="638.90" x2="362.64" y2="1001.30" stroke="#e2e2e2" stroke-width="1" />
<line x1="385.36" y1="638.90" x2="385.36" y2="1001.30" stroke="#e2e2e2" stroke-width="1" />
<line x1="408.08" y1="638.90" x2="408.08" y2="1001.30" stroke="#e2e2e2" stroke-width="1" />
<line x1="451.42" y1="638.90" x2="451.42" y2="1001.30" stroke="#e2e2e2" stroke-width="1" />
<line x1="472.04" y1="638.90" x2="472.04" y2="1001.30" stroke="#e2e2e2" stroke-width="1" />
<line x1="492.66" y1="638.90" x2="492.66" y2="1001.30" stroke="#e2e2e2" stroke-width="1" />
<line x1="513.28" y1="638.90" x2="513.28" y2="1001.30" stroke="#e2e2e2" stroke-width="1" />
<line x1="550.32" y1="638.90" x2="550.32" y2="1001.30" stroke="#e2e2e2" stroke-width="1" />
<line x1="566.74" y1="638.90" x2="566.74" y2="1001.30" stroke="#e2e2e2" stroke-width="1" />
<line x1="583.16" y1="638.90" x2="583.16" y2="1001.30" stroke="#e2e2e2" stroke-width="1" />
<line x1="599.58" y1="638.90" x2="599.58" y2="1001.30" stroke="#e2e2e2" stroke-width="1" />
<line x1="627.52" y1="638.90" x2="627.52" y2="1001.30" stroke="#e2e2e2" stroke-width="1" />
<line x1="639.04" y1="638.90" x2="639.04" y2="1001.30" stroke="#e2e2e2" stroke-width="1" />
<line x1="650.56" y1="638.90" x2="650.56" y2="1001.30" stroke="#e2e2e2" stroke-width="1" />
<line x1="662.08" y1="638.90" x2="662.08" y2="1001.30" stroke="#e2e2e2" stroke-width="1" />
<line x1="156.40" y1="689.30" x2="673.60" y2="689.30" stroke="#dcdcdc" stroke-width="1" />
<line x1="156.40" y1="740.15" x2="673.60" y2="740.15" stroke="#dcdcdc" stroke-width="1" />
<line x1="156.40" y1="791.00" x2="673.60" y2="791.00" stroke="#dcdcdc" stroke-width="1" />
<line x1="156.40" y1="841.85" x2="673.60" y2="841.85" stroke="#dcdcdc" stroke-width="1" />
<line x1="156.40" y1="892.70" x2="673.60" y2="892.70" stroke="#dcdcdc" stroke-width="1" />
<line x1="156.40" y1="943.55" x2="673.60" y2="943.55" stroke="#dcdcdc" stroke-width="1" />
<line x1="156.40" y1="994.40" x2="673.60" y2="994.40" stroke="#dcdcdc" stroke-width="1" />
<line x1="130.30" y1="638.90" x2="130.30" y2="1001.30" stroke="#3a3a3a" stroke-width="1.2" />
<line x1="156.40" y1="638.90" x2="156.40" y2="1001.30" stroke="#3a3a3a" stroke-width="1.2" />
<line x1="103.40" y1="638.90" x2="156.40" y2="638.90" stroke="#555" stroke-width="1" />
<line x1="128.10" y1="643.53" x2="132.50" y2="643.53" stroke="#3a3a3a" stroke-width="0.9" />
<line x1="153.80" y1="643.53" x2="156.40" y2="643.53" stroke="#3a3a3a" stroke-width="0.9" />
<line x1="128.10" y1="648.62" x2="132.50" y2="648.62" stroke="#3a3a3a" stroke-width="0.9" />
<line x1="153.80" y1="648.62" x2="156.40" y2="648.62" stroke="#3a3a3a" stroke-width="0.9" />
<line x1="128.10" y1="653.70" x2="132.50" y2="653.70" stroke="#3a3a3a" stroke-width="0.9" />
<line x1="153.80" y1="653.70" x2="156.40" y2="653.70" stroke="#3a3a3a" stroke-width="0.9" />
<line x1="128.10" y1="658.79" x2="132.50" y2="658.79" stroke="#3a3a3a" stroke-width="0.9" />
<line x1="153.80" y1="658.79" x2="156.40" y2="658.79" stroke="#3a3a3a" stroke-width="0.9" />
<line x1="128.10" y1="663.88" x2="132.50" y2="663.88" stroke="#3a3a3a" stroke-width="0.9" />
<line x1="153.80" y1="663.88" x2="156.40" y2="663.88" stroke="#3a3a3a" stroke-width="0.9" />
<line x1="128.10" y1="668.96" x2="132.50" y2="668.96" stroke="#3a3a3a" stroke-width="0.9" />
<line x1="153.80" y1="668.96" x2="156.40" y2="668.96" stroke="#3a3a3a" stroke-width="0.9" />
<line x1="128.10" y1="674.04" x2="132.50" y2="674.04" stroke="#3a3a3a" stroke-width="0.9" />
<line x1="153.80" y1="674.04" x2="156.40" y2="674.04" stroke="#3a3a3a" stroke-width="0.9" />
<line x1="128.10" y1="679.13" x2="132.50" y2="679.13" stroke="#3a3a3a" stroke-width="0.9" />
<line x1="153.80" y1="679.13" x2="156.40" y2="679.13" stroke="#3a3a3a" stroke-width="0.9" />
<line x1="128.10" y1="684.21" x2="132.50" y2="684.21" stroke="#3a3a3a" stroke-width="0.9" />
<line x1="153.80" y1="684.21" x2="156.40" y2="684.21" stroke="#3a3a3a" stroke-width="0.9" />
<line x1="126.90" y1="689.30" x2="133.50" y2="689.30" stroke="#3a3a3a" stroke-width="1" />
<line x1="152.40" y1="689.30" x2="156.40" y2="689.30" stroke="#3a3a3a" stroke-width="1" />
<line x1="128.10" y1="694.38" x2="132.50" y2="694.38" stroke="#3a3a3a" stroke-width="0.9" />
<line x1="153.80" y1="694.38" x2="156.40" y2="694.38" stroke="#3a3a3a" stroke-width="0.9" />
<line x1="128.10" y1="699.47" x2="132.50" y2="699.47" stroke="#3a3a3a" stroke-width="0.9" />
<line x1="153.80" y1="699.47" x2="156.40" y2="699.47" stroke="#3a3a3a" stroke-width="0.9" />
<line x1="128.10" y1="704.55" x2="132.50" y2="704.55" stroke="#3a3a3a" stroke-width="0.9" />
<line x1="153.80" y1="704.55" x2="156.40" y2="704.55" stroke="#3a3a3a" stroke-width="0.9" />
<line x1="128.10" y1="709.64" x2="132.50" y2="709.64" stroke="#3a3a3a" stroke-width="0.9" />
<line x1="153.80" y1="709.64" x2="156.40" y2="709.64" stroke="#3a3a3a" stroke-width="0.9" />
<line x1="128.10" y1="714.72" x2="132.50" y2="714.72" stroke="#3a3a3a" stroke-width="0.9" />
<line x1="153.80" y1="714.72" x2="156.40" y2="714.72" stroke="#3a3a3a" stroke-width="0.9" />
<line x1="128.10" y1="719.81" x2="132.50" y2="719.81" stroke="#3a3a3a" stroke-width="0.9" />
<line x1="153.80" y1="719.81" x2="156.40" y2="719.81" stroke="#3a3a3a" stroke-width="0.9" />
<line x1="128.10" y1="724.89" x2="132.50" y2="724.89" stroke="#3a3a3a" stroke-width="0.9" />
<line x1="153.80" y1="724.89" x2="156.40" y2="724.89" stroke="#3a3a3a" stroke-width="0.9" />
<line x1="128.10" y1="729.98" x2="132.50" y2="729.98" stroke="#3a3a3a" stroke-width="0.9" />
<line x1="153.80" y1="729.98" x2="156.40" y2="729.98" stroke="#3a3a3a" stroke-width="0.9" />
<line x1="128.10" y1="735.06" x2="132.50" y2="735.06" stroke="#3a3a3a" stroke-width="0.9" />
<line x1="153.80" y1="735.06" x2="156.40" y2="735.06" stroke="#3a3a3a" stroke-width="0.9" />
<line x1="126.90" y1="740.15" x2="133.50" y2="740.15" stroke="#3a3a3a" stroke-width="1" />
<line x1="152.40" y1="740.15" x2="156.40" y2="740.15" stroke="#3a3a3a" stroke-width="1" />
<line x1="128.10" y1="745.23" x2="132.50" y2="745.23" stroke="#3a3a3a" stroke-width="0.9" />
<line x1="153.80" y1="745.23" x2="156.40" y2="745.23" stroke="#3a3a3a" stroke-width="0.9" />
<line x1="128.10" y1="750.32" x2="132.50" y2="750.32" stroke="#3a3a3a" stroke-width="0.9" />
<line x1="153.80" y1="750.32" x2="156.40" y2="750.32" stroke="#3a3a3a" stroke-width="0.9" />
<line x1="128.10" y1="755.40" x2="132.50" y2="755.40" stroke="#3a3a3a" stroke-width="0.9" />
<line x1="153.80" y1="755.40" x2="156.40" y2="755.40" stroke="#3a3a3a" stroke-width="0.9" />
<line x1="128.10" y1="760.49" x2="132.50" y2="760.49" stroke="#3a3a3a" stroke-width="0.9" />
<line x1="153.80" y1="760.49" x2="156.40" y2="760.49" stroke="#3a3a3a" stroke-width="0.9" />
<line x1="128.10" y1="765.57" x2="132.50" y2="765.57" stroke="#3a3a3a" stroke-width="0.9" />
<line x1="153.80" y1="765.57" x2="156.40" y2="765.57" stroke="#3a3a3a" stroke-width="0.9" />
<line x1="128.10" y1="770.66" x2="132.50" y2="770.66" stroke="#3a3a3a" stroke-width="0.9" />
<line x1="153.80" y1="770.66" x2="156.40" y2="770.66" stroke="#3a3a3a" stroke-width="0.9" />
<line x1="128.10" y1="775.74" x2="132.50" y2="775.74" stroke="#3a3a3a" stroke-width="0.9" />
<line x1="153.80" y1="775.74" x2="156.40" y2="775.74" stroke="#3a3a3a" stroke-width="0.9" />
<line x1="128.10" y1="780.83" x2="132.50" y2="780.83" stroke="#3a3a3a" stroke-width="0.9" />
<line x1="153.80" y1="780.83" x2="156.40" y2="780.83" stroke="#3a3a3a" stroke-width="0.9" />
<line x1="128.10" y1="785.91" x2="132.50" y2="785.91" stroke="#3a3a3a" stroke-width="0.9" />
<line x1="153.80" y1="785.91" x2="156.40" y2="785.91" stroke="#3a3a3a" stroke-width="0.9" />
<line x1="126.90" y1="791.00" x2="133.50" y2="791.00" stroke="#3a3a3a" stroke-width="1" />
<line x1="152.40" y1="791.00" x2="156.40" y2="791.00" stroke="#3a3a3a" stroke-width="1" />
<line x1="128.10" y1="796.08" x2="132.50" y2="796.08" stroke="#3a3a3a" stroke-width="0.9" />
<line x1="153.80" y1="796.08" x2="156.40" y2="796.08" stroke="#3a3a3a" stroke-width="0.9" />
<line x1="128.10" y1="801.17" x2="132.50" y2="801.17" stroke="#3a3a3a" stroke-width="0.9" />
<line x1="153.80" y1="801.17" x2="156.40" y2="801.17" stroke="#3a3a3a" stroke-width="0.9" />
<line x1="128.10" y1="806.25" x2="132.50" y2="806.25" stroke="#3a3a3a" stroke-width="0.9" />
<line x1="153.80" y1="806.25" x2="156.40" y2="806.25" stroke="#3a3a3a" stroke-width="0.9" />
<line x1="128.10" y1="811.34" x2="132.50" y2="811.34" stroke="#3a3a3a" stroke-width="0.9" />
<line x1="153.80" y1="811.34" x2="156.40" y2="811.34" stroke="#3a3a3a" stroke-width="0.9" />
<line x1="128.10" y1="816.42" x2="132.50" y2="816.42" stroke="#3a3a3a" stroke-width="0.9" />
<line x1="153.80" y1="816.42" x2="156.40" y2="816.42" stroke="#3a3a3a" stroke-width="0.9" />
<line x1="128.10" y1="821.51" x2="132.50" y2="821.51" stroke="#3a3a3a" stroke-width="0.9" />
<line x1="153.80" y1="821.51" x2="156.40" y2="821.51" stroke="#3a3a3a" stroke-width="0.9" />
<line x1="128.10" y1="826.59" x2="132.50" y2="826.59" stroke="#3a3a3a" stroke-width="0.9" />
<line x1="153.80" y1="826.59" x2="156.40" y2="826.59" stroke="#3a3a3a" stroke-width="0.9" />
<line x1="128.10" y1="831.68" x2="132.50" y2="831.68" stroke="#3a3a3a" stroke-width="0.9" />
<line x1="153.80" y1="831.68" x2="156.40" y2="831.68" stroke="#3a3a3a" stroke-width="0.9" />
<line x1="128.10" y1="836.76" x2="132.50" y2="836.76" stroke="#3a3a3a" stroke-width="0.9" />
<line x1="153.80" y1="836.76" x2="156.40" y2="836.76" stroke="#3a3a3a" stroke-width="0.9" />
<line x1="126.90" y1="841.85" x2="133.50" y2="841.85" stroke="#3a3a3a" stroke-width="1" />
<line x1="152.40" y1="841.85" x2="156.40" y2="841.85" stroke="#3a3a3a" stroke-width="1" />
<line x1="128.10" y1="846.93" x2="132.50" y2="846.93" stroke="#3a3a3a" stroke-width="0.9" />
<line x1="153.80" y1="846.93" x2="156.40" y2="846.93" stroke="#3a3a3a" stroke-width="0.9" />
<line x1="128.10" y1="852.02" x2="132.50" y2="852.02" stroke="#3a3a3a" stroke-width="0.9" />
<line x1="153.80" y1="852.02" x2="156.40" y2="852.02" stroke="#3a3a3a" stroke-width="0.9" />
<line x1="128.10" y1="857.10" x2="132.50" y2="857.10" stroke="#3a3a3a" stroke-width="0.9" />
<line x1="153.80" y1="857.10" x2="156.40" y2="857.10" stroke="#3a3a3a" stroke-width="0.9" />
<line x1="128.10" y1="862.19" x2="132.50" y2="862.19" stroke="#3a3a3a" stroke-width="0.9" />
<line x1="153.80" y1="862.19" x2="156.40" y2="862.19" stroke="#3a3a3a" stroke-width="0.9" />
<line x1="128.10" y1="867.27" x2="132.50" y2="867.27" stroke="#3a3a3a" stroke-width="0.9" />
<line x1="153.80" y1="867.27" x2="156.40" y2="867.27" stroke="#3a3a3a" stroke-width="0.9" />
<line x1="128.10" y1="872.36" x2="132.50" y2="872.36" stroke="#3a3a3a" stroke-width="0.9" />
<line x1="153.80" y1="872.36" x2="156.40" y2="872.36" stroke="#3a3a3a" stroke-width="0.9" />
<line x1="128.10" y1="877.44" x2="132.50" y2="877.44" stroke="#3a3a3a" stroke-width="0.9" />
<line x1="153.80" y1="877.44" x2="156.40" y2="877.44" stroke="#3a3a3a" stroke-width="0.9" />
<line x1="128.10" y1="882.53" x2="132.50" y2="882.53" stroke="#3a3a3a" stroke-width="0.9" />
<line x1="153.80" y1="882.53" x2="156.40" y2="882.53" stroke="#3a3a3a" stroke-width="0.9" />
<line x1="128.10" y1="887.61" x2="132.50" y2="887.61" stroke="#3a3a3a" stroke-width="0.9" />
<line x1="153.80" y1="887.61" x2="156.40" y2="887.61" stroke="#3a3a3a" stroke-width="0.9" />
<line x1="126.90" y1="892.70" x2="133.50" y2="892.70" stroke="#3a3a3a" stroke-width="1" />
<line x1="152.40" y1="892.70" x2="156.40" y2="892.70" stroke="#3a3a3a" stroke-width="1" />
<line x1="128.10" y1="897.78" x2="132.50" y2="897.78" stroke="#3a3a3a" stroke-width="0.9" />
<line x1="153.80" y1="897.78" x2="156.40" y2="897.78" stroke="#3a3a3a" stroke-width="0.9" />
<line x1="128.10" y1="902.87" x2="132.50" y2="902.87" stroke="#3a3a3a" stroke-width="0.9" />
<line x1="153.80" y1="902.87" x2="156.40" y2="902.87" stroke="#3a3a3a" stroke-width="0.9" />
<line x1="128.10" y1="907.95" x2="132.50" y2="907.95" stroke="#3a3a3a" stroke-width="0.9" />
<line x1="153.80" y1="907.95" x2="156.40" y2="907.95" stroke="#3a3a3a" stroke-width="0.9" />
<line x1="128.10" y1="913.04" x2="132.50" y2="913.04" stroke="#3a3a3a" stroke-width="0.9" />
<line x1="153.80" y1="913.04" x2="156.40" y2="913.04" stroke="#3a3a3a" stroke-width="0.9" />
<line x1="128.10" y1="918.12" x2="132.50" y2="918.12" stroke="#3a3a3a" stroke-width="0.9" />
<line x1="153.80" y1="918.12" x2="156.40" y2="918.12" stroke="#3a3a3a" stroke-width="0.9" />
<line x1="128.10" y1="923.21" x2="132.50" y2="923.21" stroke="#3a3a3a" stroke-width="0.9" />
<line x1="153.80" y1="923.21" x2="156.40" y2="923.21" stroke="#3a3a3a" stroke-width="0.9" />
<line x1="128.10" y1="928.29" x2="132.50" y2="928.29" stroke="#3a3a3a" stroke-width="0.9" />
<line x1="153.80" y1="928.29" x2="156.40" y2="928.29" stroke="#3a3a3a" stroke-width="0.9" />
<line x1="128.10" y1="933.38" x2="132.50" y2="933.38" stroke="#3a3a3a" stroke-width="0.9" />
<line x1="153.80" y1="933.38" x2="156.40" y2="933.38" stroke="#3a3a3a" stroke-width="0.9" />
<line x1="128.10" y1="938.46" x2="132.50" y2="938.46" stroke="#3a3a3a" stroke-width="0.9" />
<line x1="153.80" y1="938.46" x2="156.40" y2="938.46" stroke="#3a3a3a" stroke-width="0.9" />
<line x1="126.90" y1="943.55" x2="133.50" y2="943.55" stroke="#3a3a3a" stroke-width="1" />
<line x1="152.40" y1="943.55" x2="156.40" y2="943.55" stroke="#3a3a3a" stroke-width="1" />
<line x1="128.10" y1="948.63" x2="132.50" y2="948.63" stroke="#3a3a3a" stroke-width="0.9" />
<line x1="153.80" y1="948.63" x2="156.40" y2="948.63" stroke="#3a3a3a" stroke-width="0.9" />
<line x1="128.10" y1="953.72" x2="132.50" y2="953.72" stroke="#3a3a3a" stroke-width="0.9" />
<line x1="153.80" y1="953.72" x2="156.40" y2="953.72" stroke="#3a3a3a" stroke-width="0.9" />
<line x1="128.10" y1="958.80" x2="132.50" y2="958.80" stroke="#3a3a3a" stroke-width="0.9" />
<line x1="153.80" y1="958.80" x2="156.40" y2="958.80" stroke="#3a3a3a" stroke-width="0.9" />
<line x1="128.10" y1="963.89" x2="132.50" y2="963.89" stroke="#3a3a3a" stroke-width="0.9" />
<line x1="153.80" y1="963.89" x2="156.40" y2="963.89" stroke="#3a3a3a" stroke-width="0.9" />
<line x1="128.10" y1="968.97" x2="132.50" y2="968.97" stroke="#3a3a3a" stroke-width="0.9" />
<line x1="153.80" y1="968.97" x2="156.40" y2="968.97" stroke="#3a3a3a" stroke-width="0.9" />
<line x1="128.10" y1="974.06" x2="132.50" y2="974.06" stroke="#3a3a3a" stroke-width="0.9" />
<line x1="153.80" y1="974.06" x2="156.40" y2="974.06" stroke="#3a3a3a" stroke-width="0.9" />
<line x1="128.10" y1="979.14" x2="132.50" y2="979.14" stroke="#3a3a3a" stroke-width="0.9" />
<line x1="153.80" y1="979.14" x2="156.40" y2="979.14" stroke="#3a3a3a" stroke-width="0.9" />
<line x1="128.10" y1="984.23" x2="132.50" y2="984.23" stroke="#3a3a3a" stroke-width="0.9" />
<line x1="153.80" y1="984.23" x2="156.40" y2="984.23" stroke="#3a3a3a" stroke-width="0.9" />
<line x1="128.10" y1="989.31" x2="132.50" y2="989.31" stroke="#3a3a3a" stroke-width="0.9" />
<line x1="153.80" y1="989.31" x2="156.40" y2="989.31" stroke="#3a3a3a" stroke-width="0.9" />
<line x1="126.90" y1="994.40" x2="133.50" y2="994.40" stroke="#3a3a3a" stroke-width="1" />
<line x1="152.40" y1="994.40" x2="156.40" y2="994.40" stroke="#3a3a3a" stroke-width="1" />
<line x1="128.10" y1="999.48" x2="132.50" y2="999.48" stroke="#3a3a3a" stroke-width="0.9" />
<line x1="153.80" y1="999.48" x2="156.40" y2="999.48" stroke="#3a3a3a" stroke-width="0.9" />
<text x="105.10" y="646.00" font-size="6.8" fill="#26262e" text-anchor="start" textLength="22.10" lengthAdjust="spacingAndGlyphs"  stroke="#26262e" stroke-width="0.22">1132.5</text>
<text x="132.30" y="646.00" font-size="6.8" fill="#26262e" text-anchor="start" textLength="22.20" lengthAdjust="spacingAndGlyphs"  stroke="#26262e" stroke-width="0.22">2001.3</text>
<text x="106.30" y="691.20" font-size="5.2" fill="#26262e" text-anchor="start" textLength="15.00" lengthAdjust="spacingAndGlyphs"  stroke="#26262e" stroke-width="0.22">1173.7</text>
<text x="134.70" y="691.90" font-size="7.2" fill="#26262e" text-anchor="start" textLength="16.50" lengthAdjust="spacingAndGlyphs"  stroke="#26262e" stroke-width="0.22">2100</text>
<text x="106.30" y="742.05" font-size="5.2" fill="#26262e" text-anchor="start" textLength="15.00" lengthAdjust="spacingAndGlyphs"  stroke="#26262e" stroke-width="0.22">1211.3</text>
<text x="134.70" y="742.75" font-size="7.2" fill="#26262e" text-anchor="start" textLength="16.50" lengthAdjust="spacingAndGlyphs"  stroke="#26262e" stroke-width="0.22">2200</text>
<text x="106.30" y="792.90" font-size="5.2" fill="#26262e" text-anchor="start" textLength="15.00" lengthAdjust="spacingAndGlyphs"  stroke="#26262e" stroke-width="0.22">1283.4</text>
<text x="134.70" y="793.60" font-size="7.2" fill="#26262e" text-anchor="start" textLength="16.50" lengthAdjust="spacingAndGlyphs"  stroke="#26262e" stroke-width="0.22">2300</text>
<text x="106.30" y="843.75" font-size="5.2" fill="#26262e" text-anchor="start" textLength="15.00" lengthAdjust="spacingAndGlyphs"  stroke="#26262e" stroke-width="0.22">1337.9</text>
<text x="134.70" y="844.45" font-size="7.2" fill="#26262e" text-anchor="start" textLength="16.50" lengthAdjust="spacingAndGlyphs"  stroke="#26262e" stroke-width="0.22">2400</text>
<text x="106.30" y="894.60" font-size="5.2" fill="#26262e" text-anchor="start" textLength="15.00" lengthAdjust="spacingAndGlyphs"  stroke="#26262e" stroke-width="0.22">1384.4</text>
<text x="134.70" y="895.30" font-size="7.2" fill="#26262e" text-anchor="start" textLength="16.50" lengthAdjust="spacingAndGlyphs"  stroke="#26262e" stroke-width="0.22">2500</text>
<text x="109.00" y="945.45" font-size="5.2" fill="#26262e" text-anchor="start" textLength="9.60" lengthAdjust="spacingAndGlyphs"  stroke="#26262e" stroke-width="0.22">1426</text>
<text x="134.70" y="946.15" font-size="7.2" fill="#26262e" text-anchor="start" textLength="16.50" lengthAdjust="spacingAndGlyphs"  stroke="#26262e" stroke-width="0.22">2600</text>
<text x="105.10" y="1000.00" font-size="5" fill="#26262e" text-anchor="start" textLength="18.60" lengthAdjust="spacingAndGlyphs"  stroke="#26262e" stroke-width="0.22">(1471.5)</text>
<text x="132.10" y="1000.00" font-size="5" fill="#26262e" text-anchor="start" textLength="20.20" lengthAdjust="spacingAndGlyphs"  stroke="#26262e" stroke-width="0.22">(2713.1)</text>
<polyline points="186.6,639.0 190.0,650.0 189.4,652.0 193.6,663.0 200.7,677.0 209.0,690.0 213.7,708.0 213.7,715.0 212.5,728.0 211.8,735.0 207.8,742.0 194.8,754.0 180.7,768.0 171.2,777.0 165.3,785.0 165.3,790.0 167.7,800.0 172.2,820.0 173.7,828.0 173.6,835.0 171.6,850.0 171.8,868.0 176.4,890.0 177.0,894.0 174.8,903.0 173.6,925.0 171.5,950.0 170.6,965.0" fill="none" stroke="#f01616" stroke-width="1.2" stroke-dasharray="3.4 1.8" stroke-linejoin="round" />
<polyline points="290.0,639.0 294.8,640.0 300.0,641.0 294.3,642.0 288.0,643.0 295.9,644.0 300.0,645.0 297.2,646.0 294.7,647.0 292.0,648.0 270.0,649.6 231.4,650.6 280.0,651.6 306.9,653.0 298.8,654.0 290.0,655.0 278.6,656.0 270.0,657.0 295.0,658.0 306.0,659.0 270.0,660.6 249.0,661.6 280.0,662.8 302.0,664.0 296.1,665.0 290.0,666.0 295.6,667.0 301.3,668.0 305.0,669.0 303.0,670.0 303.8,671.0 302.7,672.0 305.7,673.0 305.0,674.0 304.0,675.0 302.4,676.0 306.9,677.0 307.2,678.0 306.3,679.0 306.0,680.0 297.5,681.0 288.0,682.0 295.0,683.0 305.0,684.0 302.7,685.0 304.8,686.0 302.6,687.0 303.0,688.0 303.0,689.0 304.0,690.0 302.2,691.0 304.4,692.0 304.6,693.0 306.6,694.0 305.5,695.0 306.3,696.0 306.0,697.0 305.6,698.0 306.0,699.0 304.7,700.0 303.5,701.0 306.3,702.0 305.9,703.0 304.9,704.0 303.0,705.0 305.2,706.0 304.9,707.0 307.0,708.0 303.1,709.0 300.7,710.0 299.0,711.0 300.6,712.0 306.0,713.0 305.2,714.0 301.6,715.0 300.0,716.0 302.0,717.0 300.5,718.0 303.5,719.0 302.0,720.0 300.5,721.0 293.8,722.0 293.0,723.0 295.1,724.0 301.5,725.0 303.0,726.0 300.0,727.2 253.8,727.8 300.0,728.6 305.0,730.0 304.5,731.0 306.4,732.0 304.0,733.0 285.0,734.4 259.7,735.4 280.0,737.0 270.5,738.0 262.0,739.0 265.1,740.0 272.0,741.0 264.1,742.0 255.0,743.0 260.2,744.0 263.0,745.0 256.0,746.0 249.2,747.0 245.0,748.0 270.0,749.0 285.6,750.4 260.0,752.0 241.0,753.0 223.4,754.0 250.0,755.6 265.0,757.0 262.0,758.0 255.0,759.0 250.5,760.0 242.0,761.0 238.0,762.0 243.9,763.0 252.0,764.0 244.2,765.2 240.0,766.5 231.1,767.8 226.0,769.0 245.0,770.0 262.0,771.2 240.0,773.0 233.8,774.0 225.0,775.0 245.0,776.4 260.0,777.6 240.0,779.2 224.0,781.0 235.0,782.0 240.0,783.0 260.0,784.6 259.6,785.8 262.0,787.0 264.9,788.0 267.1,789.0 270.0,790.0 276.1,791.3 285.0,792.6 277.5,793.8 268.0,795.0 259.9,796.0 255.0,797.0 270.0,798.0 285.0,799.4 279.6,800.8 266.8,801.7 280.8,802.6 273.8,803.7 278.0,804.9 273.8,806.0 280.3,806.9 273.6,808.4 281.6,809.3 268.0,810.9 283.7,812.0 260.7,812.8 278.8,813.9 272.2,814.8 279.3,816.2 266.6,817.5 281.8,818.6 274.1,819.4 282.8,820.4 272.5,821.5 281.6,822.8 262.6,823.9 280.6,825.2 269.4,826.5 284.0,828.0 256.2,829.0 282.2,829.9 274.6,831.3 279.7,832.5 264.8,833.8 284.6,835.1 267.3,836.1 282.8,837.4 264.5,838.6 282.2,840.1 277.4,841.5 285.3,842.8 271.2,844.4 286.2,845.5 281.9,846.8 286.3,848.0 282.9,848.9 287.2,850.3 282.0,851.3 288.1,852.8 281.4,853.9 292.5,855.4 285.7,856.9 291.7,858.0 276.4,859.6 291.9,860.5 287.7,861.5 294.0,862.7 288.8,863.7 293.4,864.8 278.1,866.0 294.3,867.4 284.1,868.7 296.2,869.5 280.9,871.0 294.6,872.4 290.4,873.5 293.6,874.8 290.2,875.7 294.5,876.6 290.5,877.5 293.4,878.4 290.3,879.5 295.0,881.0 289.4,881.9 293.8,883.0 282.3,883.9 293.8,885.5 289.6,886.6 293.1,887.5 282.5,888.5 291.8,889.5 285.8,891.0 292.0,891.9 284.6,892.8 291.1,894.3 284.5,895.7 287.0,896.8 281.1,898.2 289.2,899.6 281.7,900.6 294.9,902.2 286.6,903.6 297.6,905.0 295.3,906.3 298.7,907.1 295.9,908.1 301.6,909.5 288.8,910.6 301.8,912.2 296.5,913.3 299.7,914.3 293.6,915.2 301.8,916.8 293.4,917.9 299.7,919.4 288.9,920.7 298.5,922.1 292.1,923.3 293.4,924.8 280.1,926.2 292.7,927.3 285.9,928.9 293.8,929.8 284.7,930.7 295.7,932.2 285.7,933.6 298.5,935.0 294.8,936.2 299.7,937.0 291.8,938.3 297.2,939.9 287.1,941.4 295.8,942.3 292.1,943.4 295.1,944.6 291.7,945.8 294.5,947.3 287.8,948.5 293.8,950.0 289.1,951.5 295.7,952.8 290.8,953.6 295.2,954.5 293.7,956.0 299.0,957.1 294.5,958.4 299.9,959.6 296.4,961.0 299.5,962.3 291.4,963.3 300.6,964.5 297.5,965.0" fill="none" stroke="#1414f0" stroke-width="1.35" stroke-linejoin="round" />
<polyline points="290.3,639.2 295.8,640.2 300.3,641.2 295.3,642.2 288.3,643.2 296.9,644.2 300.3,645.2 298.2,646.2 295.0,647.2 293.0,648.2 270.3,649.8 232.4,650.8 280.3,651.8 307.9,653.2 299.1,654.2 291.0,655.2 278.9,656.2 271.0,657.2 295.3,658.2 307.0,659.2 270.3,660.8 250.0,661.8 280.3,663.0 303.0,664.2 296.4,665.2 291.0,666.2 295.9,667.2 302.3,668.2 305.3,669.2 304.0,670.2 304.1,671.2 303.7,672.2 306.0,673.2 306.0,674.2 304.3,675.2 303.4,676.2 307.2,677.2 308.2,678.2 306.6,679.2 307.0,680.2 297.8,681.2 289.0,682.2 295.3,683.2 306.0,684.2 303.0,685.2 305.8,686.2 302.9,687.2 304.0,688.2 303.3,689.2 305.0,690.2 302.5,691.2 305.4,692.2 304.9,693.2 307.6,694.2 305.8,695.2 307.3,696.2 306.3,697.2 306.6,698.2 306.3,699.2 305.7,700.2 303.8,701.2 307.3,702.2 306.2,703.2 305.9,704.2 303.3,705.2 306.2,706.2 305.2,707.2 308.0,708.2 303.4,709.2 301.7,710.2 299.3,711.2 301.6,712.2 306.3,713.2 306.2,714.2 301.9,715.2 301.0,716.2 302.3,717.2 301.5,718.2 303.8,719.2 303.0,720.2 300.8,721.2 294.8,722.2 293.3,723.2 296.1,724.2 301.8,725.2 304.0,726.2 300.3,727.4 254.8,728.0 300.3,728.8 306.0,730.2 304.8,731.2 307.4,732.2 304.3,733.2 286.0,734.6 260.0,735.6 281.0,737.2 270.8,738.2 263.0,739.2 265.4,740.2 273.0,741.2 264.4,742.2 256.0,743.2 260.5,744.2 264.0,745.2 256.3,746.2 250.2,747.2 245.3,748.2 271.0,749.2 285.9,750.6 261.0,752.2 241.3,753.2 224.4,754.2 250.3,755.8 266.0,757.2 262.3,758.2 256.0,759.2 250.8,760.2 243.0,761.2 238.3,762.2 244.9,763.2 252.3,764.2 245.2,765.5 240.3,766.7 232.1,768.0 226.3,769.2 246.0,770.2 262.3,771.4 241.0,773.2 234.1,774.2 226.0,775.2 245.3,776.6 261.0,777.8 240.3,779.4 225.0,781.2 235.3,782.2 241.0,783.2 260.3,784.8 260.6,786.0 262.3,787.2 265.9,788.2 267.4,789.2 271.0,790.2 276.4,791.5 286.0,792.8 277.8,794.0 269.0,795.2 260.2,796.2 256.0,797.2 270.3,798.2 286.0,799.6 279.9,801.0 267.8,801.9 281.1,802.8 274.8,803.9 278.3,805.1 274.8,806.2 280.6,807.1 274.6,808.6 281.9,809.5 269.0,811.1 284.0,812.2 261.7,813.0 279.1,814.1 273.2,815.0 279.6,816.4 267.6,817.7 282.1,818.8 275.1,819.6 283.1,820.6 273.5,821.7 281.9,823.0 263.6,824.1 280.9,825.4 270.4,826.7 284.3,828.2 257.2,829.2 282.5,830.1 275.6,831.5 280.0,832.7 265.8,834.0 284.9,835.3 268.3,836.3 283.1,837.6 265.5,838.8 282.5,840.3 278.4,841.7 285.6,843.0 272.2,844.6 286.5,845.7 282.9,847.0 286.6,848.2 283.9,849.1 287.5,850.5 283.0,851.5 288.4,853.0 282.4,854.1 292.8,855.6 286.7,857.1 292.0,858.2 277.4,859.8 292.2,860.7 288.7,861.7 294.3,862.9 289.8,863.9 293.7,865.0 279.1,866.2 294.6,867.6 285.1,868.9 296.5,869.7 281.9,871.2 294.9,872.6 291.4,873.7 293.9,875.0 291.2,875.9 294.8,876.8 291.5,877.7 293.7,878.6 291.3,879.7 295.3,881.2 290.4,882.1 294.1,883.2 283.3,884.1 294.1,885.7 290.6,886.8 293.4,887.7 283.5,888.7 292.1,889.7 286.8,891.2 292.3,892.1 285.6,893.0 291.4,894.5 285.5,895.9 287.3,897.0 282.1,898.4 289.5,899.8 282.7,900.8 295.2,902.4 287.6,903.8 297.9,905.2 296.3,906.5 299.0,907.3 296.9,908.3 301.9,909.7 289.8,910.8 302.1,912.4 297.5,913.5 300.0,914.5 294.6,915.4 302.1,917.0 294.4,918.1 300.0,919.6 289.9,920.9 298.8,922.3 293.1,923.5 293.7,925.0 281.1,926.4 293.0,927.5 286.9,929.1 294.1,930.0 285.7,930.9 296.0,932.4 286.7,933.8 298.8,935.2 295.8,936.4 300.0,937.2 292.8,938.5 297.5,940.1 288.1,941.6 296.1,942.5 293.1,943.6 295.4,944.8 292.7,946.0 294.8,947.5 288.8,948.7 294.1,950.2 290.1,951.7 296.0,953.0 291.8,953.8 295.5,954.7 294.7,956.2 299.3,957.3 295.5,958.6 300.2,959.8 297.4,961.2 299.8,962.5 292.4,963.5 300.9,964.7 298.5,965.2" fill="none" stroke="#f01616" stroke-width="1.15" stroke-dasharray="1.8 2.6" stroke-linejoin="round" />
<polyline points="364.0,639.0 364.0,668.0 364.5,690.0 374.5,707.0 369.0,720.0 365.2,728.0 359.7,740.0 349.2,764.0 369.9,766.6 350.5,775.0 352.0,787.0 355.0,810.0 358.3,824.0 363.4,855.0 367.0,885.0 369.3,905.0" fill="none" stroke="#f01616" stroke-width="1.2" stroke-dasharray="3.4 1.8" stroke-linejoin="round" />
<polyline points="364.0,639.0 366.7,641.0 346.8,648.5 370.8,652.5 368.0,657.0 371.0,659.0 353.8,662.0 365.0,665.0 375.4,668.5 375.0,678.0 369.9,681.5 375.0,684.0 374.0,690.0 377.2,700.0 378.0,705.0 376.0,710.0 370.8,718.0 368.0,722.0 373.5,730.0 370.0,733.0 356.0,735.0 346.8,744.0 352.0,748.0 344.0,753.0 349.6,757.0 342.2,766.0 340.4,778.0 344.0,783.0 352.4,787.0 357.0,791.0 349.6,797.0 354.2,803.0 351.4,815.0 357.9,818.0 352.5,824.0 358.8,820.0 354.2,828.0 360.6,837.0 356.0,845.0 362.5,853.0 356.0,862.5 365.2,875.0 362.0,885.0 359.7,898.0 369.0,903.0 366.2,906.0 369.0,914.0 364.3,925.0 368.0,940.0 364.3,945.0 368.0,953.0 368.0,1001.0" fill="none" stroke="#1414f0" stroke-width="1.2" stroke-dasharray="3.4 1.8" stroke-linejoin="round" />
<rect x="431.40" y="638.60" width="26.60" height="8.00" fill="#ff3300" />
<rect x="431.40" y="646.00" width="26.60" height="6.10" fill="#ff4400" />
<rect x="431.40" y="651.50" width="28.10" height="2.10" fill="#ff5000" />
<rect x="431.40" y="653.00" width="29.00" height="10.60" fill="#ff5500" />
<rect x="431.40" y="663.00" width="28.10" height="4.60" fill="#ff5500" />
<rect x="431.40" y="667.00" width="26.60" height="4.60" fill="#ff2200" />
<rect x="431.40" y="671.00" width="22.60" height="4.60" fill="#ff0a00" />
<rect x="431.40" y="675.00" width="23.80" height="3.60" fill="#ff3300" />
<rect x="431.40" y="678.00" width="23.60" height="3.60" fill="#ff0000" />
<rect x="431.40" y="681.00" width="27.90" height="8.60" fill="#ff4400" />
<rect x="431.40" y="689.00" width="26.60" height="4.60" fill="#ff3300" />
<rect x="431.40" y="693.00" width="31.30" height="3.60" fill="#ff5500" />
<rect x="431.40" y="696.00" width="30.60" height="6.60" fill="#ff6a00" />
<rect x="431.40" y="702.00" width="27.40" height="5.60" fill="#ff5000" />
<rect x="431.40" y="707.00" width="30.60" height="3.60" fill="#ff8800" />
<rect x="431.40" y="710.00" width="36.90" height="3.60" fill="#ffa000" />
<rect x="431.40" y="713.00" width="37.20" height="3.10" fill="#ffbb00" />
<rect x="431.40" y="715.50" width="37.20" height="7.10" fill="#ffa000" />
<rect x="431.40" y="722.00" width="36.10" height="4.60" fill="#ff9900" />
<rect x="431.40" y="726.00" width="37.60" height="4.60" fill="#ff9c00" />
<rect x="431.40" y="730.00" width="35.30" height="5.60" fill="#ff9900" />
<rect x="431.40" y="735.00" width="38.80" height="11.10" fill="#ffb300" />
<rect x="431.40" y="745.50" width="42.60" height="5.10" fill="#ffcc00" />
<rect x="431.40" y="750.00" width="54.20" height="3.60" fill="#99ff00" />
<rect x="431.40" y="753.00" width="58.90" height="4.60" fill="#11f000" />
<rect x="431.40" y="757.00" width="57.30" height="4.60" fill="#33ff00" />
<rect x="431.40" y="761.00" width="54.20" height="3.60" fill="#66ff00" />
<rect x="431.40" y="764.00" width="49.40" height="2.60" fill="#ccff00" />
<rect x="431.40" y="766.00" width="39.20" height="2.60" fill="#ffaa00" />
<rect x="431.40" y="768.00" width="35.30" height="2.60" fill="#ff8800" />
<rect x="431.40" y="770.00" width="43.90" height="3.60" fill="#ffdd00" />
<rect x="431.40" y="773.00" width="57.80" height="3.60" fill="#66ff00" />
<rect x="431.40" y="776.00" width="53.10" height="3.60" fill="#88ff00" />
<rect x="431.40" y="779.00" width="40.80" height="2.60" fill="#ffee00" />
<rect x="431.40" y="781.00" width="35.30" height="3.60" fill="#ffaa00" />
<rect x="431.40" y="784.00" width="32.90" height="4.60" fill="#ff8800" />
<rect x="431.40" y="788.00" width="35.80" height="6.10" fill="#ff9900" />
<rect x="431.40" y="793.50" width="23.60" height="2.30" fill="#ff0000" />
<rect x="431.40" y="795.20" width="14.00" height="2.40" fill="#ff0000" />
<rect x="431.40" y="797.00" width="11.20" height="7.60" fill="#ff0000" />
<rect x="431.40" y="804.00" width="14.80" height="3.60" fill="#ff0000" />
<rect x="431.40" y="807.00" width="25.80" height="3.60" fill="#ff4400" />
<rect x="431.40" y="810.00" width="31.30" height="2.60" fill="#ff8800" />
<rect x="431.40" y="812.00" width="53.10" height="2.60" fill="#88ff00" />
<rect x="431.40" y="814.00" width="73.00" height="3.60" fill="#1100ff" />
<rect x="431.40" y="817.00" width="79.30" height="2.60" fill="#5500ff" />
<rect x="431.40" y="819.00" width="85.10" height="4.60" fill="#8800ff" />
<rect x="431.40" y="823.00" width="81.60" height="3.60" fill="#5500ff" />
<rect x="431.40" y="826.00" width="84.00" height="3.60" fill="#8800ff" />
<rect x="431.40" y="829.00" width="89.20" height="4.60" fill="#ff00ff" />
<rect x="431.40" y="833.00" width="88.00" height="5.60" fill="#bb00ff" />
<rect x="431.40" y="838.00" width="85.60" height="2.60" fill="#9900ff" />
<rect x="431.40" y="840.00" width="80.90" height="4.60" fill="#4400ff" />
<rect x="431.40" y="844.00" width="90.80" height="6.60" fill="#ff00ff" />
<rect x="431.40" y="850.00" width="49.40" height="3.20" fill="#99ff00" />
<rect x="431.40" y="852.60" width="39.20" height="8.50" fill="#ffb300" />
<rect x="431.40" y="860.50" width="19.60" height="3.10" fill="#ff0000" />
<rect x="431.40" y="863.00" width="12.90" height="9.60" fill="#ff0000" />
<rect x="431.40" y="872.00" width="14.80" height="4.60" fill="#ff0000" />
<rect x="431.40" y="876.00" width="16.80" height="4.60" fill="#ff0000" />
<rect x="431.40" y="880.00" width="17.50" height="13.20" fill="#ff0000" />
<rect x="431.40" y="892.60" width="14.80" height="5.00" fill="#ff0000" />
<rect x="431.40" y="897.00" width="17.20" height="4.60" fill="#ff0000" />
<rect x="431.40" y="901.00" width="20.30" height="3.60" fill="#ff0000" />
<rect x="431.40" y="904.00" width="21.40" height="9.60" fill="#ff0000" />
<rect x="431.40" y="913.00" width="26.30" height="4.60" fill="#ff3300" />
<rect x="431.40" y="917.00" width="27.00" height="10.60" fill="#ff3300" />
<rect x="431.40" y="927.00" width="28.60" height="10.60" fill="#ff3300" />
<rect x="431.40" y="937.00" width="29.40" height="13.00" fill="#ff5500" />
<rect x="431.40" y="949.40" width="30.60" height="7.80" fill="#ff7700" />
<rect x="431.40" y="956.60" width="24.70" height="4.00" fill="#ff2a00" />
<rect x="431.40" y="960.00" width="23.00" height="14.90" fill="#ff0000" />
<polyline points="458.0,638.6 458.0,638.6 458.0,646.0 458.0,646.0 458.0,651.5 459.5,651.5 459.5,653.0 460.4,653.0 460.4,663.0 459.5,663.0 459.5,667.0 458.0,667.0 458.0,671.0 454.0,671.0 454.0,675.0 455.2,675.0 455.2,678.0 455.0,678.0 455.0,681.0 459.3,681.0 459.3,689.0 458.0,689.0 458.0,693.0 462.7,693.0 462.7,696.0 462.0,696.0 462.0,702.0 458.8,702.0 458.8,707.0 462.0,707.0 462.0,710.0 468.3,710.0 468.3,713.0 468.6,713.0 468.6,715.5 468.6,715.5 468.6,722.0 467.5,722.0 467.5,726.0 469.0,726.0 469.0,730.0 466.7,730.0 466.7,735.0 470.2,735.0 470.2,745.5 474.0,745.5 474.0,750.0 485.6,750.0 485.6,753.0 490.3,753.0 490.3,757.0 488.7,757.0 488.7,761.0 485.6,761.0 485.6,764.0 480.8,764.0 480.8,766.0 470.6,766.0 470.6,768.0 466.7,768.0 466.7,770.0 475.3,770.0 475.3,773.0 489.2,773.0 489.2,776.0 484.5,776.0 484.5,779.0 472.2,779.0 472.2,781.0 466.7,781.0 466.7,784.0 464.3,784.0 464.3,788.0 467.2,788.0 467.2,793.5 455.0,793.5 455.0,795.2 445.4,795.2 445.4,797.0 442.6,797.0 442.6,804.0 446.2,804.0 446.2,807.0 457.2,807.0 457.2,810.0 462.7,810.0 462.7,812.0 484.5,812.0 484.5,814.0 504.4,814.0 504.4,817.0 510.7,817.0 510.7,819.0 516.5,819.0 516.5,823.0 513.0,823.0 513.0,826.0 515.4,826.0 515.4,829.0 520.6,829.0 520.6,833.0 519.4,833.0 519.4,838.0 517.0,838.0 517.0,840.0 512.3,840.0 512.3,844.0 522.2,844.0 522.2,850.0 480.8,850.0 480.8,852.6 470.6,852.6 470.6,860.5 451.0,860.5 451.0,863.0 444.3,863.0 444.3,872.0 446.2,872.0 446.2,876.0 448.2,876.0 448.2,880.0 448.9,880.0 448.9,892.6 446.2,892.6 446.2,897.0 448.6,897.0 448.6,901.0 451.7,901.0 451.7,904.0 452.8,904.0 452.8,913.0 457.7,913.0 457.7,917.0 458.4,917.0 458.4,927.0 460.0,927.0 460.0,937.0 460.8,937.0 460.8,949.4 462.0,949.4 462.0,956.6 456.1,956.6 456.1,960.0 454.4,960.0 454.4,974.3" fill="none" stroke="#111" stroke-width="1.0" stroke-linejoin="round" />
<g fill="#fff" stroke="#0a0a0a" stroke-width="0.95">
<ellipse cx="563.0" cy="640.6" rx="1.8" ry="1.6"/>
<ellipse cx="630.0" cy="640.6" rx="1.8" ry="1.6"/>
<ellipse cx="563.2" cy="643.1" rx="1.8" ry="1.6"/>
<ellipse cx="630.3" cy="643.1" rx="1.8" ry="1.6"/>
<ellipse cx="563.3" cy="645.7" rx="1.8" ry="1.6"/>
<ellipse cx="630.6" cy="645.7" rx="1.8" ry="1.6"/>
<ellipse cx="563.4" cy="648.2" rx="1.8" ry="1.6"/>
<ellipse cx="630.8" cy="648.2" rx="1.8" ry="1.6"/>
<ellipse cx="563.5" cy="650.8" rx="1.8" ry="1.6"/>
<ellipse cx="631.1" cy="650.8" rx="1.8" ry="1.6"/>
<ellipse cx="563.7" cy="653.3" rx="1.8" ry="1.6"/>
<ellipse cx="631.4" cy="653.3" rx="1.8" ry="1.6"/>
<ellipse cx="563.8" cy="655.9" rx="1.8" ry="1.6"/>
<ellipse cx="631.7" cy="655.9" rx="1.8" ry="1.6"/>
<ellipse cx="563.9" cy="658.4" rx="1.8" ry="1.6"/>
<ellipse cx="632.0" cy="658.4" rx="1.8" ry="1.6"/>
<ellipse cx="564.0" cy="661.0" rx="1.8" ry="1.6"/>
<ellipse cx="632.3" cy="661.0" rx="1.8" ry="1.6"/>
<ellipse cx="564.2" cy="663.5" rx="1.8" ry="1.6"/>
<ellipse cx="632.7" cy="663.5" rx="1.8" ry="1.6"/>
<ellipse cx="564.3" cy="666.1" rx="1.8" ry="1.6"/>
<ellipse cx="633.0" cy="666.1" rx="1.8" ry="1.6"/>
<ellipse cx="564.4" cy="668.6" rx="1.8" ry="1.6"/>
<ellipse cx="633.4" cy="668.6" rx="1.8" ry="1.6"/>
<ellipse cx="564.6" cy="671.2" rx="1.8" ry="1.6"/>
<ellipse cx="633.7" cy="671.2" rx="1.8" ry="1.6"/>
<ellipse cx="564.7" cy="673.7" rx="1.8" ry="1.6"/>
<ellipse cx="634.0" cy="673.7" rx="1.8" ry="1.6"/>
<ellipse cx="564.8" cy="676.3" rx="1.8" ry="1.6"/>
<ellipse cx="634.4" cy="676.3" rx="1.8" ry="1.6"/>
<ellipse cx="565.0" cy="678.8" rx="1.8" ry="1.6"/>
<ellipse cx="634.7" cy="678.8" rx="1.8" ry="1.6"/>
<ellipse cx="565.1" cy="681.4" rx="1.8" ry="1.6"/>
<ellipse cx="635.1" cy="681.4" rx="1.8" ry="1.6"/>
<ellipse cx="565.3" cy="683.9" rx="1.8" ry="1.6"/>
<ellipse cx="635.4" cy="683.9" rx="1.8" ry="1.6"/>
<ellipse cx="565.4" cy="686.5" rx="1.8" ry="1.6"/>
<ellipse cx="635.7" cy="686.5" rx="1.8" ry="1.6"/>
<ellipse cx="565.5" cy="689.0" rx="1.8" ry="1.6"/>
<ellipse cx="636.1" cy="689.0" rx="1.8" ry="1.6"/>
<ellipse cx="565.7" cy="691.6" rx="1.8" ry="1.6"/>
<ellipse cx="636.3" cy="691.6" rx="1.8" ry="1.6"/>
<ellipse cx="565.8" cy="694.1" rx="1.8" ry="1.6"/>
<ellipse cx="636.5" cy="694.1" rx="1.8" ry="1.6"/>
<ellipse cx="566.0" cy="696.7" rx="1.8" ry="1.6"/>
<ellipse cx="636.8" cy="696.7" rx="1.8" ry="1.6"/>
<ellipse cx="566.1" cy="699.2" rx="1.8" ry="1.6"/>
<ellipse cx="637.0" cy="699.2" rx="1.8" ry="1.6"/>
<ellipse cx="566.2" cy="701.8" rx="1.8" ry="1.6"/>
<ellipse cx="637.2" cy="701.8" rx="1.8" ry="1.6"/>
<ellipse cx="566.4" cy="704.3" rx="1.8" ry="1.6"/>
<ellipse cx="637.4" cy="704.3" rx="1.8" ry="1.6"/>
<ellipse cx="566.6" cy="706.9" rx="1.8" ry="1.6"/>
<ellipse cx="637.6" cy="706.9" rx="1.8" ry="1.6"/>
<ellipse cx="566.8" cy="709.4" rx="1.8" ry="1.6"/>
<ellipse cx="637.8" cy="709.4" rx="1.8" ry="1.6"/>
<ellipse cx="567.0" cy="712.0" rx="1.8" ry="1.6"/>
<ellipse cx="638.0" cy="712.0" rx="1.8" ry="1.6"/>
<ellipse cx="567.2" cy="714.5" rx="1.8" ry="1.6"/>
<ellipse cx="638.2" cy="714.5" rx="1.8" ry="1.6"/>
<ellipse cx="567.4" cy="717.1" rx="1.8" ry="1.6"/>
<ellipse cx="638.5" cy="717.1" rx="1.8" ry="1.6"/>
<ellipse cx="567.6" cy="719.6" rx="1.8" ry="1.6"/>
<ellipse cx="638.7" cy="719.6" rx="1.8" ry="1.6"/>
<ellipse cx="567.8" cy="722.2" rx="1.8" ry="1.6"/>
<ellipse cx="638.9" cy="722.2" rx="1.8" ry="1.6"/>
<ellipse cx="568.0" cy="724.7" rx="1.8" ry="1.6"/>
<ellipse cx="639.1" cy="724.7" rx="1.8" ry="1.6"/>
<ellipse cx="568.2" cy="727.3" rx="1.8" ry="1.6"/>
<ellipse cx="639.4" cy="727.3" rx="1.8" ry="1.6"/>
<ellipse cx="568.5" cy="729.8" rx="1.8" ry="1.6"/>
<ellipse cx="639.6" cy="729.8" rx="1.8" ry="1.6"/>
<ellipse cx="568.7" cy="732.4" rx="1.8" ry="1.6"/>
<ellipse cx="639.9" cy="732.4" rx="1.8" ry="1.6"/>
<ellipse cx="569.0" cy="734.9" rx="1.8" ry="1.6"/>
<ellipse cx="640.1" cy="734.9" rx="1.8" ry="1.6"/>
<ellipse cx="569.2" cy="737.5" rx="1.8" ry="1.6"/>
<ellipse cx="640.3" cy="737.5" rx="1.8" ry="1.6"/>
<ellipse cx="569.6" cy="740.0" rx="1.8" ry="1.6"/>
<ellipse cx="640.5" cy="740.0" rx="1.8" ry="1.6"/>
<ellipse cx="569.9" cy="742.6" rx="1.8" ry="1.6"/>
<ellipse cx="640.7" cy="742.6" rx="1.8" ry="1.6"/>
<ellipse cx="570.3" cy="745.1" rx="1.8" ry="1.6"/>
<ellipse cx="640.9" cy="745.1" rx="1.8" ry="1.6"/>
<ellipse cx="570.6" cy="747.7" rx="1.8" ry="1.6"/>
<ellipse cx="641.1" cy="747.7" rx="1.8" ry="1.6"/>
<ellipse cx="571.0" cy="750.2" rx="1.8" ry="1.6"/>
<ellipse cx="641.3" cy="750.2" rx="1.8" ry="1.6"/>
<ellipse cx="571.3" cy="752.8" rx="1.8" ry="1.6"/>
<ellipse cx="641.5" cy="752.8" rx="1.8" ry="1.6"/>
<ellipse cx="571.7" cy="755.3" rx="1.8" ry="1.6"/>
<ellipse cx="641.6" cy="755.3" rx="1.8" ry="1.6"/>
<ellipse cx="572.0" cy="757.9" rx="1.8" ry="1.6"/>
<ellipse cx="641.8" cy="757.9" rx="1.8" ry="1.6"/>
<ellipse cx="572.3" cy="760.4" rx="1.8" ry="1.6"/>
<ellipse cx="642.0" cy="760.4" rx="1.8" ry="1.6"/>
<ellipse cx="572.6" cy="763.0" rx="1.8" ry="1.6"/>
<ellipse cx="642.2" cy="763.0" rx="1.8" ry="1.6"/>
<ellipse cx="572.9" cy="765.5" rx="1.8" ry="1.6"/>
<ellipse cx="642.3" cy="765.5" rx="1.8" ry="1.6"/>
<ellipse cx="573.1" cy="768.1" rx="1.8" ry="1.6"/>
<ellipse cx="642.5" cy="768.1" rx="1.8" ry="1.6"/>
<ellipse cx="573.4" cy="770.6" rx="1.8" ry="1.6"/>
<ellipse cx="642.7" cy="770.6" rx="1.8" ry="1.6"/>
<ellipse cx="573.6" cy="773.2" rx="1.8" ry="1.6"/>
<ellipse cx="642.8" cy="773.2" rx="1.8" ry="1.6"/>
<ellipse cx="573.9" cy="775.7" rx="1.8" ry="1.6"/>
<ellipse cx="643.0" cy="775.7" rx="1.8" ry="1.6"/>
<ellipse cx="574.1" cy="778.3" rx="1.8" ry="1.6"/>
<ellipse cx="643.1" cy="778.3" rx="1.8" ry="1.6"/>
<ellipse cx="574.4" cy="780.8" rx="1.8" ry="1.6"/>
<ellipse cx="643.3" cy="780.8" rx="1.8" ry="1.6"/>
<ellipse cx="574.6" cy="783.4" rx="1.8" ry="1.6"/>
<ellipse cx="643.4" cy="783.4" rx="1.8" ry="1.6"/>
<ellipse cx="574.9" cy="785.9" rx="1.8" ry="1.6"/>
<ellipse cx="643.6" cy="785.9" rx="1.8" ry="1.6"/>
<ellipse cx="575.1" cy="788.5" rx="1.8" ry="1.6"/>
<ellipse cx="644.0" cy="788.5" rx="1.8" ry="1.6"/>
<ellipse cx="575.3" cy="791.0" rx="1.8" ry="1.6"/>
<ellipse cx="644.5" cy="791.0" rx="1.8" ry="1.6"/>
<ellipse cx="575.5" cy="793.6" rx="1.8" ry="1.6"/>
<ellipse cx="644.9" cy="793.6" rx="1.8" ry="1.6"/>
<ellipse cx="575.4" cy="796.1" rx="1.8" ry="1.6"/>
<ellipse cx="645.3" cy="796.1" rx="1.8" ry="1.6"/>
<ellipse cx="575.0" cy="798.7" rx="1.8" ry="1.6"/>
<ellipse cx="645.8" cy="798.7" rx="1.8" ry="1.6"/>
<ellipse cx="574.6" cy="801.2" rx="1.8" ry="1.6"/>
<ellipse cx="646.2" cy="801.2" rx="1.8" ry="1.6"/>
<ellipse cx="574.2" cy="803.8" rx="1.8" ry="1.6"/>
<ellipse cx="646.5" cy="803.8" rx="1.8" ry="1.6"/>
<ellipse cx="573.9" cy="806.3" rx="1.8" ry="1.6"/>
<ellipse cx="646.8" cy="806.3" rx="1.8" ry="1.6"/>
<ellipse cx="573.7" cy="808.9" rx="1.8" ry="1.6"/>
<ellipse cx="647.2" cy="808.9" rx="1.8" ry="1.6"/>
<ellipse cx="573.9" cy="811.4" rx="1.8" ry="1.6"/>
<ellipse cx="647.5" cy="811.4" rx="1.8" ry="1.6"/>
<ellipse cx="574.2" cy="814.0" rx="1.8" ry="1.6"/>
<ellipse cx="647.9" cy="814.0" rx="1.8" ry="1.6"/>
<ellipse cx="574.5" cy="816.5" rx="1.8" ry="1.6"/>
<ellipse cx="648.1" cy="816.5" rx="1.8" ry="1.6"/>
<ellipse cx="574.7" cy="819.1" rx="1.8" ry="1.6"/>
<ellipse cx="648.2" cy="819.1" rx="1.8" ry="1.6"/>
<ellipse cx="575.0" cy="821.6" rx="1.8" ry="1.6"/>
<ellipse cx="648.4" cy="821.6" rx="1.8" ry="1.6"/>
<ellipse cx="575.2" cy="824.2" rx="1.8" ry="1.6"/>
<ellipse cx="648.5" cy="824.2" rx="1.8" ry="1.6"/>
<ellipse cx="575.8" cy="826.7" rx="1.8" ry="1.6"/>
<ellipse cx="648.6" cy="826.7" rx="1.8" ry="1.6"/>
<ellipse cx="576.3" cy="829.3" rx="1.8" ry="1.6"/>
<ellipse cx="648.7" cy="829.3" rx="1.8" ry="1.6"/>
<ellipse cx="576.9" cy="831.8" rx="1.8" ry="1.6"/>
<ellipse cx="648.7" cy="831.8" rx="1.8" ry="1.6"/>
<ellipse cx="577.4" cy="834.4" rx="1.8" ry="1.6"/>
<ellipse cx="648.8" cy="834.4" rx="1.8" ry="1.6"/>
<ellipse cx="578.0" cy="836.9" rx="1.8" ry="1.6"/>
<ellipse cx="648.9" cy="836.9" rx="1.8" ry="1.6"/>
<ellipse cx="578.4" cy="839.5" rx="1.8" ry="1.6"/>
<ellipse cx="649.0" cy="839.5" rx="1.8" ry="1.6"/>
<ellipse cx="578.8" cy="842.0" rx="1.8" ry="1.6"/>
<ellipse cx="649.1" cy="842.0" rx="1.8" ry="1.6"/>
<ellipse cx="579.2" cy="844.6" rx="1.8" ry="1.6"/>
<ellipse cx="649.3" cy="844.6" rx="1.8" ry="1.6"/>
<ellipse cx="579.5" cy="847.1" rx="1.8" ry="1.6"/>
<ellipse cx="649.5" cy="847.1" rx="1.8" ry="1.6"/>
<ellipse cx="579.9" cy="849.7" rx="1.8" ry="1.6"/>
<ellipse cx="649.6" cy="849.7" rx="1.8" ry="1.6"/>
<ellipse cx="580.3" cy="852.2" rx="1.8" ry="1.6"/>
<ellipse cx="649.8" cy="852.2" rx="1.8" ry="1.6"/>
<ellipse cx="580.6" cy="854.8" rx="1.8" ry="1.6"/>
<ellipse cx="650.0" cy="854.8" rx="1.8" ry="1.6"/>
<ellipse cx="581.0" cy="857.3" rx="1.8" ry="1.6"/>
<ellipse cx="650.1" cy="857.3" rx="1.8" ry="1.6"/>
<ellipse cx="581.0" cy="859.9" rx="1.8" ry="1.6"/>
<ellipse cx="650.3" cy="859.9" rx="1.8" ry="1.6"/>
<ellipse cx="580.9" cy="862.4" rx="1.8" ry="1.6"/>
<ellipse cx="650.7" cy="862.4" rx="1.8" ry="1.6"/>
<ellipse cx="580.8" cy="865.0" rx="1.8" ry="1.6"/>
<ellipse cx="651.2" cy="865.0" rx="1.8" ry="1.6"/>
<ellipse cx="580.4" cy="867.5" rx="1.8" ry="1.6"/>
<ellipse cx="651.6" cy="867.5" rx="1.8" ry="1.6"/>
<ellipse cx="580.0" cy="870.1" rx="1.8" ry="1.6"/>
<ellipse cx="652.1" cy="870.1" rx="1.8" ry="1.6"/>
<ellipse cx="579.5" cy="872.6" rx="1.8" ry="1.6"/>
<ellipse cx="652.5" cy="872.6" rx="1.8" ry="1.6"/>
<ellipse cx="579.1" cy="875.2" rx="1.8" ry="1.6"/>
<ellipse cx="653.0" cy="875.2" rx="1.8" ry="1.6"/>
<ellipse cx="578.6" cy="877.7" rx="1.8" ry="1.6"/>
<ellipse cx="653.4" cy="877.7" rx="1.8" ry="1.6"/>
<ellipse cx="578.2" cy="880.3" rx="1.8" ry="1.6"/>
<ellipse cx="653.9" cy="880.3" rx="1.8" ry="1.6"/>
<ellipse cx="577.9" cy="882.8" rx="1.8" ry="1.6"/>
<ellipse cx="654.4" cy="882.8" rx="1.8" ry="1.6"/>
<ellipse cx="577.6" cy="885.4" rx="1.8" ry="1.6"/>
<ellipse cx="654.9" cy="885.4" rx="1.8" ry="1.6"/>
<ellipse cx="577.3" cy="887.9" rx="1.8" ry="1.6"/>
<ellipse cx="655.4" cy="887.9" rx="1.8" ry="1.6"/>
<ellipse cx="577.1" cy="890.5" rx="1.8" ry="1.6"/>
<ellipse cx="655.9" cy="890.5" rx="1.8" ry="1.6"/>
<ellipse cx="576.8" cy="893.0" rx="1.8" ry="1.6"/>
<ellipse cx="656.4" cy="893.0" rx="1.8" ry="1.6"/>
<ellipse cx="576.6" cy="895.6" rx="1.8" ry="1.6"/>
<ellipse cx="656.9" cy="895.6" rx="1.8" ry="1.6"/>
<ellipse cx="576.5" cy="898.1" rx="1.8" ry="1.6"/>
<ellipse cx="657.4" cy="898.1" rx="1.8" ry="1.6"/>
<ellipse cx="576.3" cy="900.7" rx="1.8" ry="1.6"/>
<ellipse cx="657.9" cy="900.7" rx="1.8" ry="1.6"/>
<ellipse cx="576.2" cy="903.2" rx="1.8" ry="1.6"/>
<ellipse cx="658.3" cy="903.2" rx="1.8" ry="1.6"/>
<ellipse cx="576.0" cy="905.8" rx="1.8" ry="1.6"/>
<ellipse cx="658.6" cy="905.8" rx="1.8" ry="1.6"/>
<ellipse cx="575.9" cy="908.3" rx="1.8" ry="1.6"/>
<ellipse cx="659.0" cy="908.3" rx="1.8" ry="1.6"/>
<ellipse cx="575.8" cy="910.9" rx="1.8" ry="1.6"/>
<ellipse cx="659.4" cy="910.9" rx="1.8" ry="1.6"/>
<ellipse cx="575.8" cy="913.4" rx="1.8" ry="1.6"/>
<ellipse cx="659.8" cy="913.4" rx="1.8" ry="1.6"/>
<ellipse cx="575.8" cy="916.0" rx="1.8" ry="1.6"/>
<ellipse cx="660.1" cy="916.0" rx="1.8" ry="1.6"/>
<ellipse cx="575.8" cy="918.5" rx="1.8" ry="1.6"/>
<ellipse cx="660.5" cy="918.5" rx="1.8" ry="1.6"/>
<ellipse cx="575.8" cy="921.1" rx="1.8" ry="1.6"/>
<ellipse cx="660.8" cy="921.1" rx="1.8" ry="1.6"/>
<ellipse cx="575.8" cy="923.6" rx="1.8" ry="1.6"/>
<ellipse cx="661.1" cy="923.6" rx="1.8" ry="1.6"/>
<ellipse cx="575.8" cy="926.2" rx="1.8" ry="1.6"/>
<ellipse cx="661.4" cy="926.2" rx="1.8" ry="1.6"/>
<ellipse cx="575.8" cy="928.7" rx="1.8" ry="1.6"/>
<ellipse cx="661.7" cy="928.7" rx="1.8" ry="1.6"/>
<ellipse cx="575.8" cy="931.3" rx="1.8" ry="1.6"/>
<ellipse cx="662.1" cy="931.3" rx="1.8" ry="1.6"/>
<ellipse cx="575.9" cy="933.8" rx="1.8" ry="1.6"/>
<ellipse cx="662.4" cy="933.8" rx="1.8" ry="1.6"/>
<ellipse cx="576.0" cy="936.4" rx="1.8" ry="1.6"/>
<ellipse cx="662.7" cy="936.4" rx="1.8" ry="1.6"/>
<ellipse cx="576.1" cy="938.9" rx="1.8" ry="1.6"/>
<ellipse cx="663.0" cy="938.9" rx="1.8" ry="1.6"/>
<ellipse cx="576.2" cy="941.5" rx="1.8" ry="1.6"/>
<ellipse cx="663.3" cy="941.5" rx="1.8" ry="1.6"/>
<ellipse cx="576.3" cy="944.0" rx="1.8" ry="1.6"/>
<ellipse cx="663.6" cy="944.0" rx="1.8" ry="1.6"/>
<ellipse cx="576.4" cy="946.6" rx="1.8" ry="1.6"/>
<ellipse cx="663.9" cy="946.6" rx="1.8" ry="1.6"/>
<ellipse cx="576.4" cy="949.1" rx="1.8" ry="1.6"/>
<ellipse cx="664.3" cy="949.1" rx="1.8" ry="1.6"/>
<ellipse cx="576.5" cy="951.7" rx="1.8" ry="1.6"/>
<ellipse cx="664.7" cy="951.7" rx="1.8" ry="1.6"/>
<ellipse cx="576.6" cy="954.2" rx="1.8" ry="1.6"/>
<ellipse cx="665.0" cy="954.2" rx="1.8" ry="1.6"/>
<ellipse cx="576.7" cy="956.8" rx="1.8" ry="1.6"/>
<ellipse cx="665.4" cy="956.8" rx="1.8" ry="1.6"/>
<ellipse cx="576.8" cy="959.3" rx="1.8" ry="1.6"/>
<ellipse cx="665.8" cy="959.3" rx="1.8" ry="1.6"/>
<ellipse cx="576.8" cy="961.9" rx="1.8" ry="1.6"/>
<ellipse cx="666.2" cy="961.9" rx="1.8" ry="1.6"/>
<ellipse cx="576.8" cy="964.4" rx="1.8" ry="1.6"/>
<ellipse cx="666.5" cy="964.4" rx="1.8" ry="1.6"/>
<ellipse cx="576.8" cy="967.0" rx="1.8" ry="1.6"/>
<ellipse cx="666.7" cy="967.0" rx="1.8" ry="1.6"/>
<ellipse cx="576.8" cy="969.5" rx="1.8" ry="1.6"/>
<ellipse cx="666.9" cy="969.5" rx="1.8" ry="1.6"/>
<ellipse cx="576.8" cy="972.1" rx="1.8" ry="1.6"/>
<ellipse cx="667.0" cy="972.1" rx="1.8" ry="1.6"/>
<ellipse cx="576.8" cy="974.6" rx="1.8" ry="1.6"/>
<ellipse cx="667.2" cy="974.6" rx="1.8" ry="1.6"/>
</g>
<polyline points="94.9,651.6 97.0,651.6 103.4,651.4 673.6,651.4 681.0,651.6 683.2,651.6" fill="none" stroke="#8fc31f" stroke-width="1.35" stroke-linejoin="round" />
<g stroke="#8fc31f" stroke-width="1.0" fill="none"><circle cx="90.40" cy="651.60" r="4.4"/><line x1="86.00" y1="651.60" x2="94.80" y2="651.60"/><line x1="90.40" y1="647.20" x2="90.40" y2="656.00"/></g>
<g stroke="#8fc31f" stroke-width="1.0" fill="none"><circle cx="687.70" cy="651.60" r="4.4"/><line x1="683.30" y1="651.60" x2="692.10" y2="651.60"/><line x1="687.70" y1="647.20" x2="687.70" y2="656.00"/></g>
<text x="35.70" y="654.50" font-size="9.2" fill="#26262e" text-anchor="start" textLength="44.60" lengthAdjust="spacingAndGlyphs" >CHORGALI</text>
<text x="693.70" y="654.30" font-size="9.2" fill="#26262e" text-anchor="start" textLength="44.60" lengthAdjust="spacingAndGlyphs" >CHORGALI</text>
<polyline points="94.9,667.4 97.0,667.4 103.4,667.6 673.6,667.6 681.0,667.4 683.2,667.4" fill="none" stroke="#2e9fd8" stroke-width="1.35" stroke-linejoin="round" />
<g stroke="#2e9fd8" stroke-width="1.0" fill="none"><circle cx="90.40" cy="667.40" r="4.4"/><line x1="86.00" y1="667.40" x2="94.80" y2="667.40"/><line x1="90.40" y1="663.00" x2="90.40" y2="671.80"/></g>
<g stroke="#2e9fd8" stroke-width="1.0" fill="none"><circle cx="687.70" cy="667.40" r="4.4"/><line x1="683.30" y1="667.40" x2="692.10" y2="667.40"/><line x1="687.70" y1="663.00" x2="687.70" y2="671.80"/></g>
<text x="39.90" y="670.30" font-size="9.2" fill="#26262e" text-anchor="start" textLength="42.20" lengthAdjust="spacingAndGlyphs" >SAKESAR</text>
<text x="693.70" y="670.10" font-size="9.2" fill="#26262e" text-anchor="start" textLength="42.20" lengthAdjust="spacingAndGlyphs" >SAKESAR</text>
<polyline points="94.9,715.4 97.0,715.4 103.4,722.1 673.6,722.1 681.0,715.4 683.2,715.4" fill="none" stroke="#d9383a" stroke-width="1.35" stroke-linejoin="round" />
<g stroke="#d9383a" stroke-width="1.0" fill="none"><circle cx="90.40" cy="715.40" r="4.4"/><line x1="86.00" y1="715.40" x2="94.80" y2="715.40"/><line x1="90.40" y1="711.00" x2="90.40" y2="719.80"/></g>
<g stroke="#d9383a" stroke-width="1.0" fill="none"><circle cx="687.70" cy="715.40" r="4.4"/><line x1="683.30" y1="715.40" x2="692.10" y2="715.40"/><line x1="687.70" y1="711.00" x2="687.70" y2="719.80"/></g>
<text x="47.40" y="718.30" font-size="9.2" fill="#26262e" text-anchor="start" textLength="34.70" lengthAdjust="spacingAndGlyphs" >PATALA</text>
<text x="693.70" y="718.10" font-size="9.2" fill="#26262e" text-anchor="start" textLength="34.70" lengthAdjust="spacingAndGlyphs" >PATALA</text>
<polyline points="94.9,727.7 97.0,727.7 103.4,727.8 673.6,727.8 681.0,727.7 683.2,727.7" fill="none" stroke="#e030e0" stroke-width="1.25" stroke-linejoin="round" />
<g stroke="#e030e0" stroke-width="1.0" fill="none"><circle cx="90.40" cy="727.70" r="4.4"/><line x1="86.00" y1="727.70" x2="94.80" y2="727.70"/><line x1="90.40" y1="723.30" x2="90.40" y2="732.10"/></g>
<g stroke="#e030e0" stroke-width="1.0" fill="none"><circle cx="687.70" cy="727.70" r="4.4"/><line x1="683.30" y1="727.70" x2="692.10" y2="727.70"/><line x1="687.70" y1="723.30" x2="687.70" y2="732.10"/></g>
<text x="32.70" y="730.60" font-size="9.2" fill="#26262e" text-anchor="start" textLength="47.60" lengthAdjust="spacingAndGlyphs" >LOCKHART</text>
<text x="693.70" y="730.40" font-size="9.2" fill="#26262e" text-anchor="start" textLength="47.60" lengthAdjust="spacingAndGlyphs" >LOCKHART</text>
<polyline points="94.9,738.5 97.0,738.5 103.4,735.4 673.6,735.4 681.0,738.5 683.2,738.5" fill="none" stroke="#2e9fd8" stroke-width="1.35" stroke-linejoin="round" />
<g stroke="#2e9fd8" stroke-width="1.0" fill="none"><circle cx="90.40" cy="738.50" r="4.4"/><line x1="86.00" y1="738.50" x2="94.80" y2="738.50"/><line x1="90.40" y1="734.10" x2="90.40" y2="742.90"/></g>
<g stroke="#2e9fd8" stroke-width="1.0" fill="none"><circle cx="687.70" cy="738.50" r="4.4"/><line x1="683.30" y1="738.50" x2="692.10" y2="738.50"/><line x1="687.70" y1="734.10" x2="687.70" y2="742.90"/></g>
<text x="42.30" y="741.40" font-size="9.2" fill="#26262e" text-anchor="start" textLength="39.80" lengthAdjust="spacingAndGlyphs" >SARDHAI</text>
<text x="693.70" y="741.20" font-size="9.2" fill="#26262e" text-anchor="start" textLength="39.80" lengthAdjust="spacingAndGlyphs" >SARDHAI</text>
<polyline points="94.9,786.7 97.0,786.7 103.4,787.0 673.6,787.0 681.0,786.7 683.2,786.7" fill="none" stroke="#2e9fd8" stroke-width="1.35" stroke-linejoin="round" />
<g stroke="#2e9fd8" stroke-width="1.0" fill="none"><circle cx="90.40" cy="786.70" r="4.4"/><line x1="86.00" y1="786.70" x2="94.80" y2="786.70"/><line x1="90.40" y1="782.30" x2="90.40" y2="791.10"/></g>
<g stroke="#2e9fd8" stroke-width="1.0" fill="none"><circle cx="687.70" cy="786.70" r="4.4"/><line x1="683.30" y1="786.70" x2="692.10" y2="786.70"/><line x1="687.70" y1="782.30" x2="687.70" y2="791.10"/></g>
<text x="42.30" y="789.60" font-size="9.2" fill="#26262e" text-anchor="start" textLength="38.70" lengthAdjust="spacingAndGlyphs" >WARCHA</text>
<text x="693.70" y="789.40" font-size="9.2" fill="#26262e" text-anchor="start" textLength="38.70" lengthAdjust="spacingAndGlyphs" >WARCHA</text>
<polyline points="94.9,863.1 97.0,863.1 103.4,863.0 673.6,863.0 681.0,863.1 683.2,863.1" fill="none" stroke="#2e9fd8" stroke-width="1.35" stroke-linejoin="round" />
<g stroke="#2e9fd8" stroke-width="1.0" fill="none"><circle cx="90.40" cy="863.10" r="4.4"/><line x1="86.00" y1="863.10" x2="94.80" y2="863.10"/><line x1="90.40" y1="858.70" x2="90.40" y2="867.50"/></g>
<g stroke="#2e9fd8" stroke-width="1.0" fill="none"><circle cx="687.70" cy="863.10" r="4.4"/><line x1="683.30" y1="863.10" x2="692.10" y2="863.10"/><line x1="687.70" y1="858.70" x2="687.70" y2="867.50"/></g>
<text x="44.00" y="866.00" font-size="9.2" fill="#26262e" text-anchor="start" textLength="38.10" lengthAdjust="spacingAndGlyphs" >DANDOT</text>
<text x="693.70" y="865.80" font-size="9.2" fill="#26262e" text-anchor="start" textLength="38.10" lengthAdjust="spacingAndGlyphs" >DANDOT</text>
<polyline points="94.9,888.1 97.0,888.1 103.4,888.3 673.6,888.3 681.0,888.1 683.2,888.1" fill="none" stroke="#d8d834" stroke-width="1.35" stroke-linejoin="round" />
<g stroke="#d8d834" stroke-width="1.0" fill="none"><circle cx="90.40" cy="888.10" r="4.4"/><line x1="86.00" y1="888.10" x2="94.80" y2="888.10"/><line x1="90.40" y1="883.70" x2="90.40" y2="892.50"/></g>
<g stroke="#d8d834" stroke-width="1.0" fill="none"><circle cx="687.70" cy="888.10" r="4.4"/><line x1="683.30" y1="888.10" x2="692.10" y2="888.10"/><line x1="687.70" y1="883.70" x2="687.70" y2="892.50"/></g>
<text x="51.80" y="891.00" font-size="9.2" fill="#26262e" text-anchor="start" textLength="30.30" lengthAdjust="spacingAndGlyphs" >TOBRA</text>
<text x="693.70" y="890.80" font-size="9.2" fill="#26262e" text-anchor="start" textLength="30.30" lengthAdjust="spacingAndGlyphs" >TOBRA</text>
<polyline points="94.9,906.0 97.0,906.0 103.4,907.7 673.6,907.7 681.0,906.0 683.2,906.0" fill="none" stroke="#e29a9a" stroke-width="1.1" stroke-linejoin="round" />
<g stroke="#e29a9a" stroke-width="1.0" fill="none"><circle cx="90.40" cy="906.00" r="4.4"/><line x1="86.00" y1="906.00" x2="94.80" y2="906.00"/><line x1="90.40" y1="901.60" x2="90.40" y2="910.40"/></g>
<g stroke="#e29a9a" stroke-width="1.0" fill="none"><circle cx="687.70" cy="906.00" r="4.4"/><line x1="683.30" y1="906.00" x2="692.10" y2="906.00"/><line x1="687.70" y1="901.60" x2="687.70" y2="910.40"/></g>
<text x="45.70" y="908.90" font-size="9.2" fill="#26262e" text-anchor="start" textLength="36.40" lengthAdjust="spacingAndGlyphs" >KUSSAK</text>
<text x="693.70" y="908.70" font-size="9.2" fill="#26262e" text-anchor="start" textLength="36.40" lengthAdjust="spacingAndGlyphs" >KUSSAK</text>
<polyline points="94.9,917.7 97.0,917.7 103.4,916.7 673.6,916.7 681.0,917.7 683.2,917.7" fill="none" stroke="#2e9fd8" stroke-width="1.35" stroke-linejoin="round" />
<g stroke="#2e9fd8" stroke-width="1.0" fill="none"><circle cx="90.40" cy="917.70" r="4.4"/><line x1="86.00" y1="917.70" x2="94.80" y2="917.70"/><line x1="90.40" y1="913.30" x2="90.40" y2="922.10"/></g>
<g stroke="#2e9fd8" stroke-width="1.0" fill="none"><circle cx="687.70" cy="917.70" r="4.4"/><line x1="683.30" y1="917.70" x2="692.10" y2="917.70"/><line x1="687.70" y1="913.30" x2="687.70" y2="922.10"/></g>
<text x="43.30" y="920.60" font-size="9.2" fill="#26262e" text-anchor="start" textLength="38.80" lengthAdjust="spacingAndGlyphs" >KHEWRA</text>
<text x="693.70" y="920.40" font-size="9.2" fill="#26262e" text-anchor="start" textLength="38.80" lengthAdjust="spacingAndGlyphs" >KHEWRA</text>
<polyline points="94.9,960.2 97.0,960.2 103.4,960.3 673.6,960.3 681.0,960.2 683.2,960.2" fill="none" stroke="#8bd98b" stroke-width="1.1" stroke-linejoin="round" />
<g stroke="#8bd98b" stroke-width="1.0" fill="none"><circle cx="90.40" cy="960.20" r="4.4"/><line x1="86.00" y1="960.20" x2="94.80" y2="960.20"/><line x1="90.40" y1="955.80" x2="90.40" y2="964.60"/></g>
<g stroke="#8bd98b" stroke-width="1.0" fill="none"><circle cx="687.70" cy="960.20" r="4.4"/><line x1="683.30" y1="960.20" x2="692.10" y2="960.20"/><line x1="687.70" y1="955.80" x2="687.70" y2="964.60"/></g>
<text x="25.30" y="963.10" font-size="9.2" fill="#26262e" text-anchor="start" textLength="55.00" lengthAdjust="spacingAndGlyphs" >SALT RANGE</text>
<text x="693.70" y="962.90" font-size="9.2" fill="#26262e" text-anchor="start" textLength="55.00" lengthAdjust="spacingAndGlyphs" >SALT RANGE</text>
<polyline points="94.9,973.3 97.0,973.3 103.4,973.2 673.6,973.2 681.0,973.3 683.2,973.3" fill="none" stroke="#8fd0d0" stroke-width="1.1" stroke-linejoin="round" />
<g stroke="#8fd0d0" stroke-width="1.0" fill="none"><circle cx="90.40" cy="973.30" r="4.4"/><line x1="86.00" y1="973.30" x2="94.80" y2="973.30"/><line x1="90.40" y1="968.90" x2="90.40" y2="977.70"/></g>
<g stroke="#8fd0d0" stroke-width="1.0" fill="none"><circle cx="687.70" cy="973.30" r="4.4"/><line x1="683.30" y1="973.30" x2="692.10" y2="973.30"/><line x1="687.70" y1="968.90" x2="687.70" y2="977.70"/></g>
<text x="68.90" y="976.20" font-size="9.2" fill="#26262e" text-anchor="start" textLength="14.20" lengthAdjust="spacingAndGlyphs" >T.D</text>
<text x="693.70" y="976.00" font-size="9.2" fill="#26262e" text-anchor="start" textLength="14.20" lengthAdjust="spacingAndGlyphs" >T.D</text>
<text x="672.20" y="650.00" font-size="5.4" fill="#8fc31f" text-anchor="end" textLength="28.00" lengthAdjust="spacingAndGlyphs"  stroke="#8fc31f" stroke-width="0.22">CHORGALI</text>
<text x="672.20" y="666.00" font-size="5.4" fill="#2e9fd8" text-anchor="end" textLength="24.20" lengthAdjust="spacingAndGlyphs"  stroke="#2e9fd8" stroke-width="0.22">SAKESAR</text>
<text x="672.20" y="720.60" font-size="5.4" fill="#d9383a" text-anchor="end" textLength="20.50" lengthAdjust="spacingAndGlyphs"  stroke="#d9383a" stroke-width="0.22">PATALA</text>
<text x="672.20" y="727.20" font-size="5.4" fill="#e030e0" text-anchor="end" textLength="28.60" lengthAdjust="spacingAndGlyphs"  stroke="#e030e0" stroke-width="0.22">LOCKHART</text>
<text x="672.20" y="734.20" font-size="5.4" fill="#2e9fd8" text-anchor="end" textLength="24.20" lengthAdjust="spacingAndGlyphs"  stroke="#2e9fd8" stroke-width="0.22">SARDHAI</text>
<text x="672.20" y="785.20" font-size="5.4" fill="#2e9fd8" text-anchor="end" textLength="24.40" lengthAdjust="spacingAndGlyphs"  stroke="#2e9fd8" stroke-width="0.22">WARCHA</text>
<text x="672.20" y="860.80" font-size="5.4" fill="#2e9fd8" text-anchor="end" textLength="23.00" lengthAdjust="spacingAndGlyphs"  stroke="#2e9fd8" stroke-width="0.22">DANDOT</text>
<text x="672.20" y="885.00" font-size="5.4" fill="#d8d834" text-anchor="end" textLength="18.60" lengthAdjust="spacingAndGlyphs"  stroke="#d8d834" stroke-width="0.22">TOBRA</text>
<text x="672.20" y="904.60" font-size="5.4" fill="#e29a9a" text-anchor="end" textLength="22.40" lengthAdjust="spacingAndGlyphs"  stroke="#e29a9a" stroke-width="0.22">KUSSAK</text>
<text x="672.20" y="913.60" font-size="5.4" fill="#2e9fd8" text-anchor="end" textLength="24.00" lengthAdjust="spacingAndGlyphs"  stroke="#2e9fd8" stroke-width="0.22">KHEWRA</text>
<text x="672.20" y="957.20" font-size="5.4" fill="#8bd98b" text-anchor="end" textLength="34.00" lengthAdjust="spacingAndGlyphs"  stroke="#8bd98b" stroke-width="0.22">SALT RANGE</text>
<text x="672.20" y="970.60" font-size="5.4" fill="#8fd0d0" text-anchor="end" textLength="7.50" lengthAdjust="spacingAndGlyphs"  stroke="#8fd0d0" stroke-width="0.22">T.D</text>
<line x1="222.00" y1="638.90" x2="222.00" y2="1002.30" stroke="#222" stroke-width="1.6" />
<line x1="317.20" y1="638.90" x2="317.20" y2="1002.30" stroke="#222" stroke-width="1.6" />
<line x1="430.80" y1="638.90" x2="430.80" y2="1002.30" stroke="#222" stroke-width="1.6" />
<line x1="533.90" y1="638.90" x2="533.90" y2="1002.30" stroke="#222" stroke-width="1.6" />
<line x1="616.00" y1="638.90" x2="616.00" y2="1002.30" stroke="#222" stroke-width="1.6" />
<line x1="673.60" y1="592.00" x2="673.60" y2="1002.30" stroke="#555" stroke-width="1.2" />
<line x1="103.40" y1="580.00" x2="103.40" y2="1002.30" stroke="#444" stroke-width="1.3" />
<circle cx="345.2" cy="586.6" r="3" fill="#000"/>
<text x="352.50" y="589.80" font-size="8.8" fill="#220000" text-anchor="start" textLength="82.20" lengthAdjust="spacingAndGlyphs" >JOYAMAIR-04 [TVD]</text>
<line x1="103.40" y1="592.40" x2="673.60" y2="592.40" stroke="#555" stroke-width="1" />
<line x1="103.40" y1="612.90" x2="673.60" y2="612.90" stroke="#404040" stroke-width="1.1" />
<line x1="130.00" y1="592.40" x2="130.00" y2="612.90" stroke="#404040" stroke-width="1.1" />
<line x1="156.20" y1="592.40" x2="156.20" y2="612.90" stroke="#404040" stroke-width="1.1" />
<line x1="222.20" y1="592.40" x2="222.20" y2="612.90" stroke="#404040" stroke-width="1.1" />
<line x1="317.60" y1="592.40" x2="317.60" y2="612.90" stroke="#404040" stroke-width="1.1" />
<line x1="431.20" y1="592.40" x2="431.20" y2="612.90" stroke="#404040" stroke-width="1.1" />
<line x1="534.60" y1="592.40" x2="534.60" y2="612.90" stroke="#404040" stroke-width="1.1" />
<line x1="616.60" y1="592.40" x2="616.60" y2="612.90" stroke="#404040" stroke-width="1.1" />
<line x1="222.20" y1="612.90" x2="222.20" y2="633.40" stroke="#404040" stroke-width="1.1" />
<line x1="431.20" y1="612.90" x2="431.20" y2="633.40" stroke="#404040" stroke-width="1.1" />
<line x1="317.60" y1="612.90" x2="317.60" y2="633.40" stroke="#404040" stroke-width="1.1" />
<line x1="222.20" y1="633.40" x2="431.20" y2="633.40" stroke="#404040" stroke-width="1.1" />
<text x="108.90" y="600.50" font-size="6.9" fill="#333338" text-anchor="start" textLength="16.30" lengthAdjust="spacingAndGlyphs"  stroke="#333338" stroke-width="0.22">TWT</text>
<text x="136.30" y="600.50" font-size="6.9" fill="#333338" text-anchor="start" textLength="14.50" lengthAdjust="spacingAndGlyphs"  stroke="#333338" stroke-width="0.22">TVD</text>
<line x1="131.20" y1="602.50" x2="155.20" y2="602.50" stroke="#404040" stroke-width="1.1" />
<text x="132.10" y="610.70" font-size="6.7" fill="#333338" text-anchor="start" textLength="21.70" lengthAdjust="spacingAndGlyphs"  stroke="#333338" stroke-width="0.22">1:6000</text>
<text x="161.50" y="600.50" font-size="6.9" fill="#333338" text-anchor="start" textLength="55.80" lengthAdjust="spacingAndGlyphs"  stroke="#333338" stroke-width="0.22">Residual drift log</text>
<line x1="157.20" y1="602.40" x2="221.00" y2="602.40" stroke="#f00000" stroke-width="1.4" stroke-dasharray="2.9 1.4"/>
<path d="M157.2,600.9 L159.4,602.4 L157.2,603.9 Z" fill="#f00000"/>
<path d="M221.0,600.9 L218.8,602.4 L221.0,603.9 Z" fill="#f00000"/>
<text x="157.50" y="610.70" font-size="6.7" fill="#333338" text-anchor="start" textLength="21.20" lengthAdjust="spacingAndGlyphs"  stroke="#333338" stroke-width="0.22">-10.00</text>
<text x="184.40" y="610.70" font-size="6.7" fill="#333338" text-anchor="start" textLength="9.80" lengthAdjust="spacingAndGlyphs"  stroke="#333338" stroke-width="0.22">ms</text>
<text x="202.50" y="610.70" font-size="6.7" fill="#333338" text-anchor="start" textLength="18.60" lengthAdjust="spacingAndGlyphs"  stroke="#333338" stroke-width="0.22">30.00</text>
<text x="236.70" y="600.50" font-size="6.9" fill="#333338" text-anchor="start" textLength="66.50" lengthAdjust="spacingAndGlyphs"  stroke="#333338" stroke-width="0.22">Calibrated sonic log</text>
<line x1="223.20" y1="602.40" x2="316.20" y2="602.40" stroke="#0000f0" stroke-width="1.4" stroke-dasharray="2.9 1.4"/>
<path d="M223.2,600.9 L225.4,602.4 L223.2,603.9 Z" fill="#0000f0"/>
<path d="M316.2,600.9 L314.0,602.4 L316.2,603.9 Z" fill="#0000f0"/>
<text x="223.50" y="610.70" font-size="6.7" fill="#333338" text-anchor="start" textLength="21.20" lengthAdjust="spacingAndGlyphs"  stroke="#333338" stroke-width="0.22">140.00</text>
<text x="262.30" y="610.70" font-size="6.7" fill="#333338" text-anchor="start" textLength="14.80" lengthAdjust="spacingAndGlyphs"  stroke="#333338" stroke-width="0.22">us/ft</text>
<text x="297.70" y="610.70" font-size="6.7" fill="#333338" text-anchor="start" textLength="18.20" lengthAdjust="spacingAndGlyphs"  stroke="#333338" stroke-width="0.22">40.00</text>
<text x="318.30" y="610.70" font-size="6.7" fill="#333338" text-anchor="start" textLength="14.30" lengthAdjust="spacingAndGlyphs"  stroke="#333338" stroke-width="0.22">0.00</text>
<text x="368.10" y="610.70" font-size="6.7" fill="#333338" text-anchor="start" textLength="12.20" lengthAdjust="spacingAndGlyphs"  stroke="#333338" stroke-width="0.22">m/s</text>
<text x="396.20" y="610.70" font-size="6.7" fill="#333338" text-anchor="start" textLength="32.80" lengthAdjust="spacingAndGlyphs"  stroke="#333338" stroke-width="0.22">11,000.00</text>
<text x="223.50" y="630.60" font-size="6.7" fill="#333338" text-anchor="start" textLength="21.20" lengthAdjust="spacingAndGlyphs"  stroke="#333338" stroke-width="0.22">140.00</text>
<text x="262.30" y="630.60" font-size="6.7" fill="#333338" text-anchor="start" textLength="14.80" lengthAdjust="spacingAndGlyphs"  stroke="#333338" stroke-width="0.22">us/ft</text>
<text x="297.70" y="630.60" font-size="6.7" fill="#333338" text-anchor="start" textLength="18.20" lengthAdjust="spacingAndGlyphs"  stroke="#333338" stroke-width="0.22">40.00</text>
<text x="318.30" y="630.60" font-size="6.7" fill="#333338" text-anchor="start" textLength="14.30" lengthAdjust="spacingAndGlyphs"  stroke="#333338" stroke-width="0.22">0.00</text>
<text x="368.10" y="630.60" font-size="6.7" fill="#333338" text-anchor="start" textLength="12.20" lengthAdjust="spacingAndGlyphs"  stroke="#333338" stroke-width="0.22">m/s</text>
<text x="396.20" y="630.60" font-size="6.7" fill="#333338" text-anchor="start" textLength="32.80" lengthAdjust="spacingAndGlyphs"  stroke="#333338" stroke-width="0.22">11,000.00</text>
<text x="264.50" y="620.40" font-size="6.9" fill="#333338" text-anchor="start" textLength="8.80" lengthAdjust="spacingAndGlyphs"  stroke="#333338" stroke-width="0.22">DT</text>
<line x1="223.20" y1="623.30" x2="316.20" y2="623.30" stroke="#f00000" stroke-width="1.4" stroke-dasharray="2.9 1.4"/>
<path d="M223.2,621.8 L225.4,623.3 L223.2,624.8 Z" fill="#f00000"/>
<path d="M316.2,621.8 L314.0,623.3 L316.2,624.8 Z" fill="#f00000"/>
<text x="339.50" y="600.50" font-size="6.9" fill="#333338" text-anchor="start" textLength="69.80" lengthAdjust="spacingAndGlyphs"  stroke="#333338" stroke-width="0.22">Input interval velocity</text>
<line x1="318.60" y1="602.40" x2="430.00" y2="602.40" stroke="#f00000" stroke-width="1.4" stroke-dasharray="2.9 1.4"/>
<path d="M318.6,600.9 L320.8,602.4 L318.6,603.9 Z" fill="#f00000"/>
<path d="M430.0,600.9 L427.8,602.4 L430.0,603.9 Z" fill="#f00000"/>
<text x="337.00" y="620.40" font-size="6.9" fill="#333338" text-anchor="start" textLength="75.30" lengthAdjust="spacingAndGlyphs"  stroke="#333338" stroke-width="0.22">Output interval velocity</text>
<line x1="318.60" y1="623.30" x2="430.00" y2="623.30" stroke="#0000f0" stroke-width="1.4" stroke-dasharray="2.9 1.4"/>
<path d="M318.6,621.8 L320.8,623.3 L318.6,624.8 Z" fill="#0000f0"/>
<path d="M430.0,621.8 L427.8,623.3 L430.0,624.8 Z" fill="#0000f0"/>
<text x="457.10" y="600.50" font-size="6.9" fill="#333338" text-anchor="start" textLength="52.40" lengthAdjust="spacingAndGlyphs"  stroke="#333338" stroke-width="0.22">Interval velocity</text>
<line x1="432.20" y1="602.40" x2="532.80" y2="602.40" stroke="#444" stroke-width="1.3" />
<text x="432.10" y="610.70" font-size="6.7" fill="#333338" text-anchor="start" textLength="14.50" lengthAdjust="spacingAndGlyphs"  stroke="#333338" stroke-width="0.22">0.00</text>
<text x="476.50" y="610.70" font-size="6.7" fill="#333338" text-anchor="start" textLength="12.30" lengthAdjust="spacingAndGlyphs"  stroke="#333338" stroke-width="0.22">m/s</text>
<text x="499.40" y="610.70" font-size="6.7" fill="#333338" text-anchor="start" textLength="32.50" lengthAdjust="spacingAndGlyphs"  stroke="#333338" stroke-width="0.22">15,000.00</text>
<text x="548.00" y="600.50" font-size="6.9" fill="#333338" text-anchor="start" textLength="55.30" lengthAdjust="spacingAndGlyphs"  stroke="#333338" stroke-width="0.22">Average velocity</text>
<circle cx="537.6" cy="601.2" r="1.5" fill="#fff" stroke="#222" stroke-width="0.9"/>
<circle cx="613" cy="601.2" r="1.5" fill="#fff" stroke="#222" stroke-width="0.9"/>
<circle cx="619.2" cy="601.2" r="1.5" fill="#fff" stroke="#222" stroke-width="0.9"/>
<circle cx="670.8" cy="601.2" r="1.5" fill="#fff" stroke="#222" stroke-width="0.9"/>
<text x="535.50" y="610.70" font-size="6.7" fill="#333338" text-anchor="start" textLength="28.00" lengthAdjust="spacingAndGlyphs"  stroke="#333338" stroke-width="0.22">3,000.00</text>
<text x="568.60" y="610.70" font-size="6.7" fill="#333338" text-anchor="start" textLength="11.80" lengthAdjust="spacingAndGlyphs"  stroke="#333338" stroke-width="0.22">m/s</text>
<text x="586.10" y="610.70" font-size="6.7" fill="#333338" text-anchor="start" textLength="27.90" lengthAdjust="spacingAndGlyphs"  stroke="#333338" stroke-width="0.22">4,000.00</text>
<text x="625.70" y="600.50" font-size="6.9" fill="#333338" text-anchor="start" textLength="40.50" lengthAdjust="spacingAndGlyphs"  stroke="#333338" stroke-width="0.22">TWT picked</text>
<text x="618.00" y="609.70" font-size="4.8" fill="#333338" text-anchor="start" textLength="49.20" lengthAdjust="spacingAndGlyphs"  stroke="#333338" stroke-width="0.22">1,000.00 ms 1,500.00</text>
<rect x="754.00" y="580.00" width="2.50" height="422.30" fill="#ababab" />
<line x1="1.20" y1="580.60" x2="758.00" y2="580.60" stroke="#000" stroke-width="1.4" />
<line x1="1.90" y1="580.00" x2="1.90" y2="1002.60" stroke="#000" stroke-width="1.4" />
<line x1="1.20" y1="1002.00" x2="758.00" y2="1002.00" stroke="#000" stroke-width="1.4" />
<line x1="757.20" y1="580.00" x2="757.20" y2="1002.60" stroke="#000" stroke-width="1.5" />
<text x="424.4" y="573.2" font-family='"Liberation Serif", serif' font-size="20.5" fill="#111" text-anchor="middle">(a)</text>
<text x="424.6" y="1025.5" font-family='"Liberation Serif", serif' font-size="20.5" fill="#111" text-anchor="middle">(b)</text>
</svg>
</body></html>
